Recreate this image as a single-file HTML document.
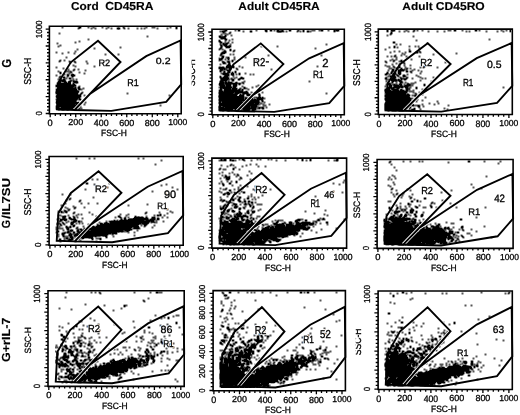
<!DOCTYPE html><html><head><meta charset="utf-8"><style>html,body{margin:0;padding:0;background:#fff}svg{display:block}text{font-family:"Liberation Sans",sans-serif;text-rendering:geometricPrecision}</style></head><body><svg width="520" height="415" viewBox="0 0 520 415">
<defs><clipPath id="c2"><rect x="191.7" y="0" width="30" height="415"/></clipPath><clipPath id="c9"><rect x="355.8" y="0" width="30" height="415"/></clipPath></defs>
<rect width="520" height="415" fill="#fff"/>
<g>
<filter id="db" x="0" y="0" width="1" height="1" color-interpolation-filters="sRGB"><feConvolveMatrix order="3" kernelMatrix="1 2 1 2 4 2 1 2 1" divisor="6" edgeMode="none"/></filter>
<path filter="url(#db)" d="M62 27h1v1h-1zM79 27h2v1h-2zM88 27h1v1h-1zM93 27h1v1h-1zM102 27h1v1h-1zM108 27h1v1h-1zM123 27h1v1h-1zM146 27h1v1h-1zM152 27h1v1h-1zM154 27h1v1h-1zM170 27h1v1h-1zM176 27h1v1h-1zM78 28h1v1h-1zM91 28h1v1h-1zM95 28h1v1h-1zM106 28h1v1h-1zM111 28h1v1h-1zM117 28h3v1h-3zM124 28h1v1h-1zM128 28h1v1h-1zM137 28h1v1h-1zM141 28h1v1h-1zM144 28h1v1h-1zM157 28h1v1h-1zM167 28h1v1h-1zM176 28h1v1h-1zM225 30h2v1h-2zM235 30h1v1h-1zM238 30h2v1h-2zM256 30h1v1h-1zM265 30h2v1h-2zM270 30h2v1h-2zM274 30h1v1h-1zM277 30h1v1h-1zM282 30h1v1h-1zM289 30h2v1h-2zM298 30h1v1h-1zM303 30h1v1h-1zM312 30h1v1h-1zM314 30h1v1h-1zM319 30h1v1h-1zM321 30h2v1h-2zM328 30h1v1h-1zM334 30h1v1h-1zM336 30h3v1h-3zM387 30h1v1h-1zM391 30h4v1h-4zM406 30h1v1h-1zM414 30h1v1h-1zM417 30h1v1h-1zM422 30h1v1h-1zM448 30h1v1h-1zM450 30h1v1h-1zM454 30h2v1h-2zM462 30h1v1h-1zM475 30h2v1h-2zM479 30h1v1h-1zM501 30h1v1h-1zM506 30h1v1h-1zM510 30h1v1h-1zM220 31h1v1h-1zM222 31h3v1h-3zM243 31h1v1h-1zM250 31h2v1h-2zM266 31h1v1h-1zM277 31h5v1h-5zM283 31h1v1h-1zM286 31h1v1h-1zM297 31h1v1h-1zM300 31h1v1h-1zM303 31h1v1h-1zM307 31h2v1h-2zM310 31h1v1h-1zM334 31h1v1h-1zM387 31h1v1h-1zM399 31h1v1h-1zM404 31h1v1h-1zM408 31h1v1h-1zM413 31h1v1h-1zM428 31h1v1h-1zM437 31h1v1h-1zM444 31h1v1h-1zM466 31h1v1h-1zM469 31h1v1h-1zM486 31h1v1h-1zM497 31h1v1h-1zM503 31h1v1h-1zM510 31h1v1h-1zM230 32h1v1h-1zM391 32h1v1h-1zM59 33h1v1h-1zM223 33h1v1h-1zM225 33h1v1h-1zM229 33h1v1h-1zM391 33h1v1h-1zM221 34h1v1h-1zM227 34h1v1h-1zM390 34h1v1h-1zM225 35h1v1h-1zM231 35h1v1h-1zM387 35h1v1h-1zM147 36h1v1h-1zM219 36h2v1h-2zM222 36h1v1h-1zM225 36h1v1h-1zM413 36h1v1h-1zM220 37h1v1h-1zM223 37h2v1h-2zM221 38h2v1h-2zM224 38h1v1h-1zM88 39h1v1h-1zM225 39h2v1h-2zM232 39h1v1h-1zM489 39h1v1h-1zM219 40h1v1h-1zM229 40h1v1h-1zM416 40h1v1h-1zM79 41h1v1h-1zM219 41h1v1h-1zM225 41h1v1h-1zM75 42h1v1h-1zM220 42h2v1h-2zM228 42h1v1h-1zM232 42h1v1h-1zM393 42h2v1h-2zM57 43h1v1h-1zM223 43h1v1h-1zM225 43h1v1h-1zM227 43h1v1h-1zM427 43h1v1h-1zM220 44h1v1h-1zM223 44h1v1h-1zM226 44h1v1h-1zM230 44h1v1h-1zM326 44h1v1h-1zM396 44h1v1h-1zM400 44h1v1h-1zM60 45h1v1h-1zM221 45h1v1h-1zM224 45h2v1h-2zM58 46h1v1h-1zM221 46h1v1h-1zM226 46h1v1h-1zM228 46h3v1h-3zM261 46h1v1h-1zM277 46h1v1h-1zM394 46h1v1h-1zM409 46h1v1h-1zM415 46h1v1h-1zM418 46h1v1h-1zM120 47h1v1h-1zM221 47h1v1h-1zM226 47h1v1h-1zM228 47h1v1h-1zM389 47h1v1h-1zM394 47h1v1h-1zM397 47h1v1h-1zM94 48h1v1h-1zM220 48h1v1h-1zM315 48h1v1h-1zM419 48h1v1h-1zM77 49h1v1h-1zM219 49h1v1h-1zM222 49h1v1h-1zM230 49h1v1h-1zM385 49h1v1h-1zM409 49h1v1h-1zM224 50h1v1h-1zM230 50h1v1h-1zM234 50h1v1h-1zM75 51h1v1h-1zM225 51h1v1h-1zM233 51h1v1h-1zM394 51h1v1h-1zM399 51h1v1h-1zM409 51h2v1h-2zM419 51h1v1h-1zM56 52h1v1h-1zM68 52h1v1h-1zM222 52h4v1h-4zM390 52h1v1h-1zM405 52h1v1h-1zM416 52h2v1h-2zM420 52h1v1h-1zM62 53h1v1h-1zM74 53h1v1h-1zM221 53h1v1h-1zM223 53h1v1h-1zM402 53h1v1h-1zM456 53h1v1h-1zM105 54h1v1h-1zM118 54h1v1h-1zM221 54h1v1h-1zM230 54h1v1h-1zM233 54h1v1h-1zM404 54h1v1h-1zM433 54h1v1h-1zM220 55h1v1h-1zM268 55h1v1h-1zM321 55h1v1h-1zM395 55h1v1h-1zM401 55h1v1h-1zM222 56h2v1h-2zM387 56h1v1h-1zM391 56h1v1h-1zM394 56h1v1h-1zM406 56h1v1h-1zM419 56h1v1h-1zM66 57h1v1h-1zM222 57h1v1h-1zM226 57h1v1h-1zM228 57h1v1h-1zM234 57h1v1h-1zM245 57h1v1h-1zM396 57h1v1h-1zM219 58h1v1h-1zM222 58h1v1h-1zM228 58h1v1h-1zM220 59h2v1h-2zM225 59h1v1h-1zM228 59h1v1h-1zM234 59h1v1h-1zM256 59h1v1h-1zM392 59h1v1h-1zM396 59h1v1h-1zM411 59h1v1h-1zM60 60h1v1h-1zM64 60h1v1h-1zM219 60h1v1h-1zM232 60h1v1h-1zM390 60h1v1h-1zM394 60h1v1h-1zM401 60h1v1h-1zM59 61h1v1h-1zM69 61h1v1h-1zM74 61h1v1h-1zM86 61h1v1h-1zM222 61h1v1h-1zM227 61h1v1h-1zM229 61h1v1h-1zM232 61h1v1h-1zM385 61h1v1h-1zM393 61h1v1h-1zM399 61h1v1h-1zM401 61h1v1h-1zM70 62h1v1h-1zM75 62h1v1h-1zM223 62h2v1h-2zM228 62h1v1h-1zM386 62h1v1h-1zM403 62h1v1h-1zM421 62h1v1h-1zM445 62h1v1h-1zM87 63h1v1h-1zM223 63h1v1h-1zM225 63h1v1h-1zM229 63h1v1h-1zM396 63h1v1h-1zM404 63h1v1h-1zM220 64h1v1h-1zM229 64h1v1h-1zM392 64h1v1h-1zM399 64h1v1h-1zM73 65h1v1h-1zM227 65h3v1h-3zM281 65h1v1h-1zM385 65h1v1h-1zM404 65h1v1h-1zM410 65h1v1h-1zM75 66h1v1h-1zM94 66h1v1h-1zM227 66h4v1h-4zM232 66h2v1h-2zM239 66h1v1h-1zM317 66h1v1h-1zM387 66h1v1h-1zM389 66h1v1h-1zM393 66h1v1h-1zM399 66h1v1h-1zM424 66h1v1h-1zM56 67h1v1h-1zM219 67h2v1h-2zM222 67h2v1h-2zM226 67h2v1h-2zM233 67h1v1h-1zM242 67h1v1h-1zM394 67h1v1h-1zM399 67h1v1h-1zM405 67h1v1h-1zM420 67h1v1h-1zM423 67h1v1h-1zM437 67h1v1h-1zM63 68h1v1h-1zM219 68h1v1h-1zM221 68h2v1h-2zM224 68h1v1h-1zM229 68h2v1h-2zM236 68h1v1h-1zM389 68h1v1h-1zM391 68h1v1h-1zM396 68h2v1h-2zM401 68h1v1h-1zM407 68h1v1h-1zM410 68h1v1h-1zM68 69h1v1h-1zM74 69h1v1h-1zM78 69h1v1h-1zM221 69h1v1h-1zM224 69h1v1h-1zM226 69h1v1h-1zM229 69h2v1h-2zM237 69h1v1h-1zM271 69h1v1h-1zM393 69h1v1h-1zM401 69h1v1h-1zM404 69h1v1h-1zM406 69h1v1h-1zM414 69h1v1h-1zM73 70h1v1h-1zM85 70h1v1h-1zM220 70h1v1h-1zM222 70h1v1h-1zM227 70h1v1h-1zM388 70h1v1h-1zM392 70h2v1h-2zM398 70h3v1h-3zM402 70h2v1h-2zM412 70h1v1h-1zM418 70h1v1h-1zM58 71h1v1h-1zM66 71h1v1h-1zM68 71h1v1h-1zM70 71h1v1h-1zM220 71h1v1h-1zM224 71h1v1h-1zM228 71h2v1h-2zM235 71h1v1h-1zM392 71h1v1h-1zM400 71h1v1h-1zM406 71h2v1h-2zM410 71h1v1h-1zM421 71h1v1h-1zM60 72h1v1h-1zM71 72h1v1h-1zM79 72h1v1h-1zM224 72h1v1h-1zM229 72h1v1h-1zM232 72h1v1h-1zM235 72h1v1h-1zM274 72h1v1h-1zM387 72h1v1h-1zM391 72h1v1h-1zM395 72h1v1h-1zM398 72h2v1h-2zM411 72h1v1h-1zM60 73h1v1h-1zM69 73h1v1h-1zM84 73h1v1h-1zM221 73h1v1h-1zM223 73h1v1h-1zM226 73h1v1h-1zM232 73h1v1h-1zM239 73h1v1h-1zM245 73h1v1h-1zM387 73h1v1h-1zM391 73h1v1h-1zM394 73h1v1h-1zM399 73h2v1h-2zM420 73h1v1h-1zM64 74h1v1h-1zM67 74h1v1h-1zM72 74h1v1h-1zM223 74h1v1h-1zM225 74h2v1h-2zM228 74h1v1h-1zM231 74h3v1h-3zM236 74h1v1h-1zM239 74h1v1h-1zM250 74h1v1h-1zM253 74h1v1h-1zM385 74h2v1h-2zM389 74h1v1h-1zM393 74h2v1h-2zM396 74h1v1h-1zM399 74h1v1h-1zM407 74h1v1h-1zM56 75h1v1h-1zM68 75h1v1h-1zM71 75h4v1h-4zM225 75h2v1h-2zM228 75h1v1h-1zM397 75h1v1h-1zM403 75h2v1h-2zM416 75h1v1h-1zM60 76h1v1h-1zM67 76h1v1h-1zM220 76h1v1h-1zM225 76h2v1h-2zM233 76h1v1h-1zM388 76h1v1h-1zM390 76h2v1h-2zM393 76h2v1h-2zM398 76h1v1h-1zM403 76h1v1h-1zM405 76h1v1h-1zM418 76h1v1h-1zM59 77h1v1h-1zM63 77h2v1h-2zM72 77h1v1h-1zM220 77h1v1h-1zM223 77h2v1h-2zM226 77h1v1h-1zM228 77h1v1h-1zM236 77h1v1h-1zM241 77h1v1h-1zM386 77h1v1h-1zM393 77h3v1h-3zM400 77h1v1h-1zM407 77h1v1h-1zM420 77h1v1h-1zM433 77h1v1h-1zM66 78h1v1h-1zM69 78h2v1h-2zM221 78h1v1h-1zM223 78h2v1h-2zM227 78h1v1h-1zM231 78h1v1h-1zM234 78h1v1h-1zM240 78h1v1h-1zM242 78h2v1h-2zM385 78h1v1h-1zM393 78h1v1h-1zM401 78h1v1h-1zM403 78h1v1h-1zM406 78h1v1h-1zM412 78h1v1h-1zM422 78h1v1h-1zM425 78h1v1h-1zM58 79h1v1h-1zM60 79h1v1h-1zM64 79h1v1h-1zM73 79h1v1h-1zM76 79h1v1h-1zM221 79h1v1h-1zM223 79h2v1h-2zM226 79h2v1h-2zM229 79h1v1h-1zM232 79h1v1h-1zM238 79h2v1h-2zM386 79h1v1h-1zM388 79h1v1h-1zM391 79h3v1h-3zM395 79h1v1h-1zM398 79h1v1h-1zM401 79h1v1h-1zM404 79h2v1h-2zM61 80h4v1h-4zM71 80h1v1h-1zM221 80h1v1h-1zM225 80h1v1h-1zM232 80h2v1h-2zM392 80h5v1h-5zM398 80h2v1h-2zM420 80h1v1h-1zM60 81h1v1h-1zM63 81h1v1h-1zM65 81h1v1h-1zM69 81h2v1h-2zM73 81h2v1h-2zM76 81h1v1h-1zM220 81h1v1h-1zM222 81h1v1h-1zM225 81h1v1h-1zM228 81h1v1h-1zM244 81h1v1h-1zM309 81h1v1h-1zM386 81h1v1h-1zM392 81h1v1h-1zM400 81h2v1h-2zM431 81h1v1h-1zM58 82h2v1h-2zM65 82h1v1h-1zM68 82h2v1h-2zM75 82h3v1h-3zM220 82h1v1h-1zM223 82h1v1h-1zM226 82h1v1h-1zM229 82h1v1h-1zM231 82h1v1h-1zM236 82h1v1h-1zM242 82h1v1h-1zM392 82h1v1h-1zM396 82h1v1h-1zM400 82h1v1h-1zM402 82h1v1h-1zM405 82h1v1h-1zM415 82h1v1h-1zM57 83h1v1h-1zM59 83h1v1h-1zM61 83h1v1h-1zM63 83h1v1h-1zM65 83h2v1h-2zM69 83h1v1h-1zM73 83h1v1h-1zM220 83h1v1h-1zM222 83h2v1h-2zM225 83h2v1h-2zM228 83h4v1h-4zM233 83h1v1h-1zM235 83h2v1h-2zM238 83h1v1h-1zM240 83h1v1h-1zM243 83h1v1h-1zM388 83h1v1h-1zM390 83h1v1h-1zM407 83h1v1h-1zM411 83h1v1h-1zM413 83h1v1h-1zM58 84h3v1h-3zM62 84h1v1h-1zM64 84h1v1h-1zM66 84h5v1h-5zM73 84h1v1h-1zM219 84h4v1h-4zM228 84h2v1h-2zM233 84h3v1h-3zM239 84h1v1h-1zM386 84h1v1h-1zM388 84h2v1h-2zM392 84h1v1h-1zM394 84h1v1h-1zM396 84h1v1h-1zM399 84h3v1h-3zM404 84h1v1h-1zM408 84h2v1h-2zM424 84h1v1h-1zM56 85h1v1h-1zM58 85h2v1h-2zM62 85h2v1h-2zM65 85h5v1h-5zM71 85h1v1h-1zM73 85h3v1h-3zM220 85h1v1h-1zM223 85h2v1h-2zM226 85h5v1h-5zM235 85h2v1h-2zM258 85h1v1h-1zM390 85h1v1h-1zM394 85h1v1h-1zM397 85h1v1h-1zM406 85h2v1h-2zM410 85h1v1h-1zM412 85h1v1h-1zM424 85h1v1h-1zM56 86h1v1h-1zM58 86h6v1h-6zM65 86h3v1h-3zM69 86h4v1h-4zM79 86h1v1h-1zM221 86h1v1h-1zM227 86h1v1h-1zM233 86h3v1h-3zM242 86h1v1h-1zM256 86h1v1h-1zM385 86h1v1h-1zM390 86h2v1h-2zM394 86h5v1h-5zM400 86h3v1h-3zM404 86h3v1h-3zM408 86h1v1h-1zM58 87h4v1h-4zM64 87h3v1h-3zM68 87h2v1h-2zM71 87h2v1h-2zM75 87h1v1h-1zM78 87h1v1h-1zM219 87h1v1h-1zM221 87h5v1h-5zM228 87h4v1h-4zM234 87h1v1h-1zM244 87h1v1h-1zM252 87h1v1h-1zM388 87h2v1h-2zM394 87h1v1h-1zM397 87h1v1h-1zM399 87h1v1h-1zM402 87h1v1h-1zM406 87h1v1h-1zM410 87h1v1h-1zM416 87h1v1h-1zM503 87h1v1h-1zM58 88h1v1h-1zM60 88h4v1h-4zM65 88h4v1h-4zM70 88h3v1h-3zM74 88h2v1h-2zM78 88h2v1h-2zM83 88h1v1h-1zM224 88h4v1h-4zM229 88h1v1h-1zM233 88h2v1h-2zM236 88h1v1h-1zM240 88h1v1h-1zM244 88h1v1h-1zM246 88h1v1h-1zM387 88h1v1h-1zM389 88h1v1h-1zM391 88h3v1h-3zM398 88h1v1h-1zM406 88h1v1h-1zM408 88h1v1h-1zM416 88h1v1h-1zM56 89h2v1h-2zM59 89h1v1h-1zM61 89h9v1h-9zM71 89h3v1h-3zM75 89h1v1h-1zM79 89h1v1h-1zM81 89h1v1h-1zM221 89h1v1h-1zM225 89h5v1h-5zM232 89h3v1h-3zM236 89h1v1h-1zM239 89h1v1h-1zM242 89h1v1h-1zM248 89h1v1h-1zM385 89h2v1h-2zM388 89h1v1h-1zM392 89h1v1h-1zM395 89h3v1h-3zM401 89h1v1h-1zM406 89h1v1h-1zM409 89h1v1h-1zM422 89h1v1h-1zM57 90h4v1h-4zM62 90h10v1h-10zM73 90h1v1h-1zM75 90h2v1h-2zM219 90h3v1h-3zM224 90h8v1h-8zM234 90h2v1h-2zM238 90h2v1h-2zM242 90h1v1h-1zM385 90h2v1h-2zM389 90h1v1h-1zM393 90h5v1h-5zM400 90h2v1h-2zM403 90h1v1h-1zM407 90h1v1h-1zM413 90h1v1h-1zM56 91h6v1h-6zM63 91h13v1h-13zM77 91h2v1h-2zM221 91h1v1h-1zM224 91h3v1h-3zM228 91h6v1h-6zM235 91h5v1h-5zM241 91h1v1h-1zM246 91h1v1h-1zM385 91h1v1h-1zM387 91h1v1h-1zM389 91h3v1h-3zM395 91h4v1h-4zM400 91h4v1h-4zM405 91h2v1h-2zM409 91h1v1h-1zM411 91h1v1h-1zM56 92h19v1h-19zM76 92h2v1h-2zM82 92h1v1h-1zM219 92h4v1h-4zM224 92h9v1h-9zM235 92h5v1h-5zM241 92h1v1h-1zM243 92h3v1h-3zM247 92h1v1h-1zM251 92h1v1h-1zM262 92h1v1h-1zM386 92h3v1h-3zM390 92h4v1h-4zM395 92h3v1h-3zM399 92h2v1h-2zM403 92h4v1h-4zM413 92h1v1h-1zM419 92h1v1h-1zM56 93h1v1h-1zM58 93h1v1h-1zM60 93h1v1h-1zM62 93h10v1h-10zM73 93h4v1h-4zM81 93h1v1h-1zM127 93h1v1h-1zM219 93h2v1h-2zM222 93h1v1h-1zM224 93h1v1h-1zM226 93h1v1h-1zM228 93h2v1h-2zM232 93h1v1h-1zM235 93h3v1h-3zM243 93h1v1h-1zM245 93h1v1h-1zM247 93h1v1h-1zM253 93h1v1h-1zM258 93h1v1h-1zM326 93h1v1h-1zM385 93h1v1h-1zM387 93h1v1h-1zM389 93h2v1h-2zM392 93h2v1h-2zM395 93h10v1h-10zM415 93h1v1h-1zM58 94h18v1h-18zM77 94h1v1h-1zM80 94h1v1h-1zM220 94h1v1h-1zM222 94h2v1h-2zM225 94h2v1h-2zM228 94h2v1h-2zM231 94h1v1h-1zM233 94h1v1h-1zM235 94h2v1h-2zM240 94h1v1h-1zM243 94h1v1h-1zM247 94h1v1h-1zM249 94h1v1h-1zM254 94h1v1h-1zM259 94h1v1h-1zM387 94h1v1h-1zM389 94h7v1h-7zM397 94h4v1h-4zM402 94h3v1h-3zM407 94h2v1h-2zM416 94h1v1h-1zM422 94h1v1h-1zM57 95h18v1h-18zM76 95h2v1h-2zM79 95h1v1h-1zM84 95h1v1h-1zM169 95h1v1h-1zM219 95h6v1h-6zM227 95h9v1h-9zM240 95h1v1h-1zM242 95h1v1h-1zM247 95h1v1h-1zM249 95h1v1h-1zM251 95h1v1h-1zM259 95h1v1h-1zM385 95h5v1h-5zM391 95h1v1h-1zM393 95h1v1h-1zM395 95h5v1h-5zM401 95h6v1h-6zM409 95h1v1h-1zM412 95h1v1h-1zM414 95h1v1h-1zM56 96h22v1h-22zM80 96h1v1h-1zM219 96h2v1h-2zM222 96h1v1h-1zM224 96h11v1h-11zM236 96h1v1h-1zM239 96h3v1h-3zM243 96h1v1h-1zM252 96h1v1h-1zM259 96h1v1h-1zM385 96h3v1h-3zM389 96h5v1h-5zM395 96h9v1h-9zM406 96h3v1h-3zM415 96h2v1h-2zM57 97h1v1h-1zM59 97h18v1h-18zM78 97h2v1h-2zM219 97h1v1h-1zM221 97h4v1h-4zM226 97h1v1h-1zM229 97h4v1h-4zM234 97h9v1h-9zM245 97h1v1h-1zM251 97h1v1h-1zM254 97h1v1h-1zM256 97h1v1h-1zM259 97h1v1h-1zM262 97h1v1h-1zM387 97h22v1h-22zM425 97h1v1h-1zM58 98h17v1h-17zM76 98h1v1h-1zM220 98h18v1h-18zM239 98h3v1h-3zM243 98h1v1h-1zM246 98h2v1h-2zM249 98h3v1h-3zM257 98h4v1h-4zM262 98h1v1h-1zM264 98h1v1h-1zM385 98h1v1h-1zM387 98h15v1h-15zM403 98h4v1h-4zM408 98h3v1h-3zM412 98h1v1h-1zM56 99h1v1h-1zM58 99h1v1h-1zM60 99h16v1h-16zM77 99h1v1h-1zM79 99h2v1h-2zM219 99h1v1h-1zM221 99h12v1h-12zM234 99h2v1h-2zM237 99h6v1h-6zM245 99h1v1h-1zM247 99h2v1h-2zM250 99h3v1h-3zM254 99h1v1h-1zM258 99h2v1h-2zM261 99h1v1h-1zM385 99h4v1h-4zM390 99h13v1h-13zM404 99h4v1h-4zM409 99h2v1h-2zM415 99h1v1h-1zM417 99h1v1h-1zM57 100h2v1h-2zM60 100h14v1h-14zM75 100h1v1h-1zM219 100h5v1h-5zM225 100h12v1h-12zM238 100h4v1h-4zM243 100h1v1h-1zM245 100h3v1h-3zM249 100h1v1h-1zM254 100h4v1h-4zM262 100h1v1h-1zM386 100h19v1h-19zM406 100h1v1h-1zM408 100h2v1h-2zM422 100h1v1h-1zM57 101h19v1h-19zM223 101h16v1h-16zM240 101h2v1h-2zM244 101h9v1h-9zM254 101h2v1h-2zM257 101h2v1h-2zM262 101h1v1h-1zM387 101h17v1h-17zM405 101h3v1h-3zM411 101h1v1h-1zM416 101h1v1h-1zM437 101h1v1h-1zM56 102h4v1h-4zM61 102h13v1h-13zM75 102h1v1h-1zM78 102h1v1h-1zM85 102h1v1h-1zM219 102h1v1h-1zM222 102h13v1h-13zM236 102h4v1h-4zM241 102h1v1h-1zM244 102h2v1h-2zM247 102h1v1h-1zM249 102h3v1h-3zM253 102h2v1h-2zM256 102h2v1h-2zM259 102h1v1h-1zM264 102h1v1h-1zM386 102h1v1h-1zM388 102h1v1h-1zM390 102h13v1h-13zM404 102h6v1h-6zM57 103h15v1h-15zM73 103h2v1h-2zM76 103h3v1h-3zM219 103h2v1h-2zM222 103h4v1h-4zM227 103h12v1h-12zM240 103h4v1h-4zM246 103h3v1h-3zM250 103h2v1h-2zM256 103h2v1h-2zM261 103h1v1h-1zM385 103h12v1h-12zM398 103h8v1h-8zM407 103h1v1h-1zM409 103h3v1h-3zM429 103h1v1h-1zM438 103h1v1h-1zM58 104h17v1h-17zM77 104h1v1h-1zM84 104h1v1h-1zM220 104h4v1h-4zM226 104h12v1h-12zM239 104h1v1h-1zM241 104h6v1h-6zM249 104h5v1h-5zM255 104h1v1h-1zM257 104h1v1h-1zM259 104h1v1h-1zM263 104h1v1h-1zM269 104h1v1h-1zM385 104h1v1h-1zM387 104h6v1h-6zM394 104h10v1h-10zM405 104h3v1h-3zM409 104h1v1h-1zM412 104h1v1h-1zM422 104h1v1h-1zM434 104h1v1h-1zM58 105h13v1h-13zM72 105h2v1h-2zM76 105h2v1h-2zM160 105h1v1h-1zM220 105h1v1h-1zM223 105h3v1h-3zM227 105h2v1h-2zM230 105h3v1h-3zM234 105h2v1h-2zM238 105h3v1h-3zM242 105h2v1h-2zM245 105h3v1h-3zM250 105h1v1h-1zM252 105h4v1h-4zM265 105h1v1h-1zM385 105h22v1h-22zM408 105h1v1h-1zM410 105h1v1h-1zM412 105h2v1h-2zM415 105h1v1h-1zM417 105h1v1h-1zM419 105h1v1h-1zM448 105h1v1h-1zM56 106h2v1h-2zM60 106h1v1h-1zM62 106h11v1h-11zM74 106h3v1h-3zM80 106h1v1h-1zM219 106h2v1h-2zM223 106h2v1h-2zM226 106h4v1h-4zM231 106h1v1h-1zM233 106h1v1h-1zM235 106h3v1h-3zM240 106h1v1h-1zM243 106h1v1h-1zM245 106h4v1h-4zM251 106h3v1h-3zM255 106h1v1h-1zM257 106h1v1h-1zM263 106h1v1h-1zM385 106h24v1h-24zM418 106h1v1h-1zM423 106h1v1h-1zM57 107h2v1h-2zM62 107h12v1h-12zM77 107h1v1h-1zM219 107h1v1h-1zM222 107h1v1h-1zM226 107h7v1h-7zM234 107h3v1h-3zM238 107h6v1h-6zM245 107h2v1h-2zM248 107h2v1h-2zM254 107h2v1h-2zM259 107h1v1h-1zM261 107h1v1h-1zM266 107h1v1h-1zM385 107h4v1h-4zM390 107h13v1h-13zM404 107h3v1h-3zM409 107h2v1h-2zM419 107h1v1h-1zM56 108h1v1h-1zM58 108h1v1h-1zM60 108h1v1h-1zM62 108h4v1h-4zM67 108h5v1h-5zM75 108h1v1h-1zM79 108h1v1h-1zM81 108h1v1h-1zM220 108h4v1h-4zM225 108h1v1h-1zM227 108h7v1h-7zM235 108h1v1h-1zM238 108h1v1h-1zM242 108h5v1h-5zM248 108h2v1h-2zM251 108h3v1h-3zM257 108h1v1h-1zM259 108h1v1h-1zM262 108h2v1h-2zM385 108h3v1h-3zM390 108h4v1h-4zM395 108h4v1h-4zM400 108h5v1h-5zM406 108h1v1h-1zM414 108h1v1h-1zM444 108h1v1h-1zM58 109h2v1h-2zM61 109h4v1h-4zM66 109h3v1h-3zM74 109h1v1h-1zM76 109h1v1h-1zM78 109h1v1h-1zM219 109h1v1h-1zM221 109h1v1h-1zM223 109h4v1h-4zM228 109h2v1h-2zM231 109h1v1h-1zM235 109h2v1h-2zM239 109h2v1h-2zM244 109h2v1h-2zM247 109h3v1h-3zM254 109h2v1h-2zM385 109h1v1h-1zM387 109h5v1h-5zM393 109h3v1h-3zM397 109h10v1h-10zM409 109h1v1h-1zM412 109h1v1h-1zM414 109h1v1h-1zM420 109h1v1h-1zM447 109h1v1h-1zM220 110h1v1h-1zM222 110h2v1h-2zM227 110h3v1h-3zM231 110h1v1h-1zM236 110h1v1h-1zM238 110h1v1h-1zM240 110h1v1h-1zM242 110h1v1h-1zM244 110h5v1h-5zM252 110h2v1h-2zM385 110h1v1h-1zM387 110h3v1h-3zM391 110h6v1h-6zM398 110h6v1h-6zM405 110h1v1h-1zM411 110h2v1h-2zM76 158h1v1h-1zM89 158h1v1h-1zM94 158h1v1h-1zM138 158h1v1h-1zM143 158h1v1h-1zM221 159h1v1h-1zM224 159h2v1h-2zM230 159h1v1h-1zM239 159h1v1h-1zM242 159h2v1h-2zM257 159h1v1h-1zM260 159h1v1h-1zM268 159h1v1h-1zM271 159h1v1h-1zM297 159h1v1h-1zM302 159h1v1h-1zM310 159h1v1h-1zM337 159h1v1h-1zM161 160h1v1h-1zM219 160h1v1h-1zM221 160h1v1h-1zM223 160h1v1h-1zM225 160h1v1h-1zM230 160h1v1h-1zM232 160h2v1h-2zM235 160h1v1h-1zM244 160h1v1h-1zM251 160h1v1h-1zM276 160h1v1h-1zM285 160h1v1h-1zM302 160h1v1h-1zM306 160h1v1h-1zM310 160h1v1h-1zM328 160h1v1h-1zM334 160h1v1h-1zM336 160h2v1h-2zM390 161h1v1h-1zM403 161h1v1h-1zM410 161h1v1h-1zM419 161h1v1h-1zM422 161h1v1h-1zM468 161h2v1h-2zM484 161h1v1h-1zM500 161h1v1h-1zM389 162h1v1h-1zM448 162h1v1h-1zM498 163h1v1h-1zM155 164h1v1h-1zM231 164h1v1h-1zM250 164h1v1h-1zM256 164h1v1h-1zM391 164h1v1h-1zM221 165h1v1h-1zM230 165h1v1h-1zM233 165h1v1h-1zM246 165h1v1h-1zM227 166h1v1h-1zM242 166h1v1h-1zM258 166h1v1h-1zM265 166h1v1h-1zM235 167h1v1h-1zM394 167h1v1h-1zM220 168h1v1h-1zM233 168h1v1h-1zM219 169h1v1h-1zM223 169h1v1h-1zM225 169h1v1h-1zM233 169h1v1h-1zM239 169h1v1h-1zM396 170h1v1h-1zM249 171h1v1h-1zM222 172h1v1h-1zM232 172h1v1h-1zM219 173h1v1h-1zM229 173h1v1h-1zM251 173h1v1h-1zM234 174h1v1h-1zM237 174h1v1h-1zM222 175h1v1h-1zM225 175h1v1h-1zM238 175h1v1h-1zM247 175h1v1h-1zM392 175h1v1h-1zM226 176h1v1h-1zM229 176h1v1h-1zM236 176h1v1h-1zM394 176h1v1h-1zM486 176h1v1h-1zM224 177h1v1h-1zM226 177h1v1h-1zM228 177h1v1h-1zM240 177h1v1h-1zM389 177h1v1h-1zM220 178h1v1h-1zM227 178h1v1h-1zM229 178h1v1h-1zM241 178h1v1h-1zM395 178h1v1h-1zM92 179h1v1h-1zM97 179h1v1h-1zM226 179h1v1h-1zM228 179h1v1h-1zM239 179h1v1h-1zM250 179h1v1h-1zM388 179h1v1h-1zM391 179h1v1h-1zM344 180h1v1h-1zM221 181h1v1h-1zM227 181h1v1h-1zM231 181h1v1h-1zM236 181h1v1h-1zM236 182h1v1h-1zM343 182h1v1h-1zM393 182h1v1h-1zM86 183h2v1h-2zM109 183h1v1h-1zM219 183h1v1h-1zM222 183h1v1h-1zM229 183h2v1h-2zM333 183h1v1h-1zM94 184h1v1h-1zM166 184h1v1h-1zM223 184h1v1h-1zM339 184h1v1h-1zM394 184h1v1h-1zM471 184h1v1h-1zM161 185h1v1h-1zM223 185h1v1h-1zM232 185h1v1h-1zM240 185h1v1h-1zM388 185h1v1h-1zM247 186h1v1h-1zM255 186h1v1h-1zM390 186h1v1h-1zM107 187h1v1h-1zM172 187h1v1h-1zM238 187h1v1h-1zM430 187h1v1h-1zM473 187h1v1h-1zM220 188h1v1h-1zM226 188h1v1h-1zM242 188h1v1h-1zM392 188h1v1h-1zM481 188h1v1h-1zM85 189h1v1h-1zM177 189h1v1h-1zM223 189h1v1h-1zM225 189h1v1h-1zM234 189h1v1h-1zM238 189h1v1h-1zM253 189h1v1h-1zM270 189h1v1h-1zM391 189h1v1h-1zM407 189h1v1h-1zM229 190h2v1h-2zM255 190h1v1h-1zM396 190h1v1h-1zM410 190h1v1h-1zM451 190h1v1h-1zM152 191h1v1h-1zM219 191h1v1h-1zM241 191h1v1h-1zM333 191h1v1h-1zM221 192h1v1h-1zM227 192h1v1h-1zM231 192h1v1h-1zM234 192h1v1h-1zM243 192h2v1h-2zM342 192h1v1h-1zM391 192h1v1h-1zM441 192h1v1h-1zM165 193h1v1h-1zM225 193h1v1h-1zM227 193h3v1h-3zM235 193h1v1h-1zM239 193h1v1h-1zM397 193h1v1h-1zM403 193h1v1h-1zM62 194h1v1h-1zM70 194h1v1h-1zM223 194h2v1h-2zM228 194h1v1h-1zM251 194h1v1h-1zM393 194h1v1h-1zM396 194h1v1h-1zM412 194h1v1h-1zM262 195h1v1h-1zM402 195h1v1h-1zM227 196h1v1h-1zM237 196h1v1h-1zM248 196h1v1h-1zM251 196h1v1h-1zM315 196h1v1h-1zM394 196h1v1h-1zM409 196h1v1h-1zM93 197h1v1h-1zM220 197h1v1h-1zM239 197h2v1h-2zM254 197h1v1h-1zM258 197h1v1h-1zM401 197h1v1h-1zM411 197h1v1h-1zM70 198h1v1h-1zM235 198h1v1h-1zM247 198h2v1h-2zM410 198h1v1h-1zM424 198h2v1h-2zM69 199h1v1h-1zM221 199h1v1h-1zM232 199h2v1h-2zM238 199h2v1h-2zM244 199h1v1h-1zM252 199h1v1h-1zM255 199h1v1h-1zM414 199h1v1h-1zM66 200h1v1h-1zM80 200h1v1h-1zM220 200h1v1h-1zM223 200h2v1h-2zM233 200h1v1h-1zM238 200h1v1h-1zM417 200h1v1h-1zM442 200h1v1h-1zM79 201h1v1h-1zM222 201h1v1h-1zM226 201h1v1h-1zM229 201h1v1h-1zM239 201h2v1h-2zM244 201h2v1h-2zM248 201h2v1h-2zM388 201h1v1h-1zM390 201h1v1h-1zM411 201h2v1h-2zM417 201h1v1h-1zM420 201h1v1h-1zM227 202h1v1h-1zM229 202h1v1h-1zM231 202h1v1h-1zM242 202h1v1h-1zM251 202h2v1h-2zM255 202h1v1h-1zM432 202h1v1h-1zM65 203h1v1h-1zM81 203h1v1h-1zM88 203h1v1h-1zM97 203h1v1h-1zM233 203h1v1h-1zM245 203h1v1h-1zM248 203h1v1h-1zM400 203h1v1h-1zM408 203h1v1h-1zM431 203h1v1h-1zM434 203h1v1h-1zM450 203h1v1h-1zM147 204h1v1h-1zM225 204h1v1h-1zM234 204h3v1h-3zM240 204h1v1h-1zM244 204h1v1h-1zM246 204h1v1h-1zM249 204h1v1h-1zM252 204h1v1h-1zM257 204h1v1h-1zM259 204h1v1h-1zM261 204h1v1h-1zM408 204h1v1h-1zM410 204h1v1h-1zM61 205h1v1h-1zM128 205h1v1h-1zM224 205h1v1h-1zM227 205h1v1h-1zM232 205h1v1h-1zM250 205h1v1h-1zM396 205h1v1h-1zM419 205h1v1h-1zM430 205h1v1h-1zM73 206h1v1h-1zM220 206h1v1h-1zM223 206h1v1h-1zM226 206h1v1h-1zM235 206h1v1h-1zM237 206h1v1h-1zM245 206h1v1h-1zM250 206h1v1h-1zM253 206h1v1h-1zM400 206h1v1h-1zM405 206h1v1h-1zM409 206h1v1h-1zM415 206h1v1h-1zM431 206h1v1h-1zM65 207h1v1h-1zM75 207h1v1h-1zM84 207h1v1h-1zM223 207h1v1h-1zM234 207h3v1h-3zM243 207h1v1h-1zM253 207h1v1h-1zM389 207h1v1h-1zM397 207h1v1h-1zM416 207h2v1h-2zM423 207h1v1h-1zM425 207h1v1h-1zM431 207h1v1h-1zM436 207h1v1h-1zM456 207h1v1h-1zM485 207h1v1h-1zM67 208h1v1h-1zM74 208h1v1h-1zM220 208h2v1h-2zM223 208h1v1h-1zM231 208h1v1h-1zM239 208h2v1h-2zM244 208h1v1h-1zM252 208h1v1h-1zM389 208h1v1h-1zM397 208h1v1h-1zM400 208h1v1h-1zM406 208h1v1h-1zM411 208h1v1h-1zM69 209h1v1h-1zM167 209h1v1h-1zM221 209h1v1h-1zM229 209h1v1h-1zM239 209h1v1h-1zM260 209h1v1h-1zM390 209h1v1h-1zM396 209h1v1h-1zM402 209h1v1h-1zM404 209h1v1h-1zM412 209h1v1h-1zM446 209h1v1h-1zM64 210h1v1h-1zM68 210h1v1h-1zM224 210h1v1h-1zM227 210h2v1h-2zM232 210h1v1h-1zM248 210h1v1h-1zM251 210h1v1h-1zM258 210h1v1h-1zM325 210h1v1h-1zM392 210h1v1h-1zM401 210h1v1h-1zM405 210h1v1h-1zM410 210h4v1h-4zM477 210h1v1h-1zM58 211h1v1h-1zM61 211h1v1h-1zM65 211h2v1h-2zM170 211h1v1h-1zM227 211h2v1h-2zM232 211h3v1h-3zM239 211h1v1h-1zM247 211h1v1h-1zM253 211h2v1h-2zM305 211h1v1h-1zM395 211h2v1h-2zM398 211h2v1h-2zM403 211h1v1h-1zM416 211h1v1h-1zM61 212h1v1h-1zM63 212h1v1h-1zM66 212h1v1h-1zM74 212h1v1h-1zM89 212h1v1h-1zM146 212h1v1h-1zM159 212h1v1h-1zM172 212h1v1h-1zM221 212h2v1h-2zM224 212h1v1h-1zM239 212h1v1h-1zM247 212h2v1h-2zM252 212h2v1h-2zM394 212h2v1h-2zM397 212h1v1h-1zM406 212h2v1h-2zM410 212h3v1h-3zM416 212h1v1h-1zM423 212h1v1h-1zM73 213h1v1h-1zM145 213h1v1h-1zM167 213h1v1h-1zM222 213h1v1h-1zM226 213h1v1h-1zM237 213h1v1h-1zM240 213h2v1h-2zM245 213h1v1h-1zM248 213h1v1h-1zM314 213h1v1h-1zM391 213h1v1h-1zM395 213h1v1h-1zM78 214h1v1h-1zM81 214h1v1h-1zM92 214h1v1h-1zM120 214h1v1h-1zM128 214h1v1h-1zM160 214h1v1h-1zM224 214h1v1h-1zM228 214h1v1h-1zM234 214h1v1h-1zM236 214h1v1h-1zM238 214h1v1h-1zM240 214h1v1h-1zM251 214h1v1h-1zM324 214h1v1h-1zM386 214h1v1h-1zM397 214h1v1h-1zM401 214h1v1h-1zM405 214h1v1h-1zM408 214h1v1h-1zM414 214h2v1h-2zM422 214h1v1h-1zM58 215h1v1h-1zM60 215h1v1h-1zM68 215h1v1h-1zM76 215h1v1h-1zM126 215h1v1h-1zM154 215h1v1h-1zM157 215h2v1h-2zM160 215h1v1h-1zM164 215h1v1h-1zM230 215h1v1h-1zM237 215h3v1h-3zM243 215h1v1h-1zM245 215h1v1h-1zM250 215h1v1h-1zM327 215h1v1h-1zM393 215h2v1h-2zM400 215h2v1h-2zM405 215h2v1h-2zM410 215h1v1h-1zM421 215h2v1h-2zM62 216h1v1h-1zM64 216h2v1h-2zM73 216h1v1h-1zM96 216h1v1h-1zM118 216h2v1h-2zM135 216h1v1h-1zM146 216h1v1h-1zM222 216h1v1h-1zM226 216h1v1h-1zM231 216h1v1h-1zM234 216h2v1h-2zM238 216h1v1h-1zM240 216h2v1h-2zM243 216h1v1h-1zM245 216h1v1h-1zM247 216h1v1h-1zM257 216h1v1h-1zM259 216h1v1h-1zM391 216h1v1h-1zM398 216h1v1h-1zM400 216h1v1h-1zM404 216h2v1h-2zM415 216h2v1h-2zM421 216h1v1h-1zM63 217h2v1h-2zM69 217h1v1h-1zM74 217h1v1h-1zM77 217h1v1h-1zM115 217h1v1h-1zM120 217h1v1h-1zM125 217h1v1h-1zM128 217h1v1h-1zM135 217h1v1h-1zM137 217h3v1h-3zM141 217h2v1h-2zM152 217h1v1h-1zM154 217h1v1h-1zM162 217h1v1h-1zM167 217h1v1h-1zM222 217h1v1h-1zM224 217h1v1h-1zM227 217h1v1h-1zM229 217h1v1h-1zM236 217h1v1h-1zM242 217h1v1h-1zM247 217h1v1h-1zM251 217h1v1h-1zM265 217h1v1h-1zM390 217h1v1h-1zM392 217h2v1h-2zM395 217h2v1h-2zM400 217h1v1h-1zM403 217h1v1h-1zM476 217h1v1h-1zM59 218h1v1h-1zM63 218h1v1h-1zM69 218h2v1h-2zM74 218h1v1h-1zM82 218h1v1h-1zM121 218h1v1h-1zM124 218h1v1h-1zM134 218h2v1h-2zM138 218h6v1h-6zM145 218h3v1h-3zM152 218h1v1h-1zM154 218h1v1h-1zM157 218h2v1h-2zM219 218h1v1h-1zM226 218h3v1h-3zM232 218h1v1h-1zM234 218h1v1h-1zM237 218h2v1h-2zM241 218h1v1h-1zM250 218h1v1h-1zM253 218h1v1h-1zM256 218h1v1h-1zM268 218h1v1h-1zM320 218h1v1h-1zM323 218h1v1h-1zM386 218h1v1h-1zM389 218h1v1h-1zM391 218h1v1h-1zM393 218h1v1h-1zM396 218h1v1h-1zM398 218h2v1h-2zM402 218h2v1h-2zM406 218h2v1h-2zM409 218h1v1h-1zM413 218h1v1h-1zM57 219h1v1h-1zM61 219h1v1h-1zM63 219h4v1h-4zM71 219h2v1h-2zM74 219h1v1h-1zM125 219h1v1h-1zM129 219h10v1h-10zM140 219h3v1h-3zM144 219h1v1h-1zM146 219h2v1h-2zM150 219h1v1h-1zM152 219h3v1h-3zM158 219h1v1h-1zM222 219h1v1h-1zM232 219h1v1h-1zM234 219h1v1h-1zM236 219h1v1h-1zM242 219h1v1h-1zM244 219h1v1h-1zM247 219h1v1h-1zM253 219h1v1h-1zM298 219h1v1h-1zM300 219h1v1h-1zM302 219h1v1h-1zM318 219h1v1h-1zM322 219h1v1h-1zM324 219h1v1h-1zM344 219h1v1h-1zM384 219h1v1h-1zM388 219h1v1h-1zM390 219h1v1h-1zM392 219h1v1h-1zM394 219h3v1h-3zM400 219h7v1h-7zM408 219h1v1h-1zM410 219h1v1h-1zM412 219h1v1h-1zM415 219h1v1h-1zM423 219h1v1h-1zM460 219h2v1h-2zM60 220h2v1h-2zM65 220h1v1h-1zM74 220h3v1h-3zM114 220h1v1h-1zM117 220h1v1h-1zM120 220h3v1h-3zM124 220h2v1h-2zM127 220h5v1h-5zM133 220h1v1h-1zM135 220h1v1h-1zM138 220h2v1h-2zM141 220h1v1h-1zM143 220h1v1h-1zM147 220h1v1h-1zM149 220h1v1h-1zM151 220h1v1h-1zM156 220h1v1h-1zM220 220h1v1h-1zM224 220h1v1h-1zM229 220h4v1h-4zM234 220h2v1h-2zM238 220h1v1h-1zM242 220h2v1h-2zM246 220h1v1h-1zM248 220h1v1h-1zM251 220h1v1h-1zM275 220h1v1h-1zM278 220h1v1h-1zM280 220h1v1h-1zM282 220h1v1h-1zM296 220h2v1h-2zM299 220h1v1h-1zM305 220h2v1h-2zM317 220h1v1h-1zM319 220h1v1h-1zM384 220h1v1h-1zM391 220h3v1h-3zM396 220h4v1h-4zM403 220h1v1h-1zM406 220h1v1h-1zM414 220h2v1h-2zM419 220h1v1h-1zM59 221h1v1h-1zM68 221h1v1h-1zM74 221h2v1h-2zM78 221h2v1h-2zM81 221h1v1h-1zM106 221h1v1h-1zM109 221h1v1h-1zM111 221h2v1h-2zM114 221h1v1h-1zM116 221h1v1h-1zM119 221h2v1h-2zM122 221h1v1h-1zM124 221h11v1h-11zM136 221h7v1h-7zM145 221h2v1h-2zM149 221h1v1h-1zM152 221h2v1h-2zM163 221h1v1h-1zM220 221h2v1h-2zM225 221h1v1h-1zM227 221h1v1h-1zM231 221h1v1h-1zM233 221h1v1h-1zM236 221h1v1h-1zM240 221h1v1h-1zM246 221h4v1h-4zM251 221h1v1h-1zM255 221h1v1h-1zM272 221h1v1h-1zM277 221h1v1h-1zM295 221h2v1h-2zM313 221h1v1h-1zM315 221h1v1h-1zM384 221h1v1h-1zM386 221h1v1h-1zM388 221h1v1h-1zM393 221h3v1h-3zM398 221h2v1h-2zM401 221h3v1h-3zM409 221h1v1h-1zM411 221h2v1h-2zM62 222h1v1h-1zM66 222h1v1h-1zM71 222h3v1h-3zM99 222h1v1h-1zM110 222h2v1h-2zM114 222h1v1h-1zM116 222h1v1h-1zM118 222h2v1h-2zM121 222h9v1h-9zM131 222h1v1h-1zM133 222h1v1h-1zM136 222h2v1h-2zM139 222h1v1h-1zM142 222h1v1h-1zM144 222h2v1h-2zM147 222h2v1h-2zM151 222h1v1h-1zM154 222h1v1h-1zM156 222h1v1h-1zM221 222h1v1h-1zM223 222h5v1h-5zM233 222h1v1h-1zM236 222h4v1h-4zM241 222h1v1h-1zM246 222h3v1h-3zM251 222h1v1h-1zM277 222h1v1h-1zM284 222h1v1h-1zM289 222h3v1h-3zM298 222h1v1h-1zM302 222h2v1h-2zM305 222h1v1h-1zM307 222h1v1h-1zM309 222h1v1h-1zM316 222h1v1h-1zM326 222h2v1h-2zM386 222h1v1h-1zM388 222h1v1h-1zM390 222h1v1h-1zM393 222h4v1h-4zM398 222h3v1h-3zM404 222h1v1h-1zM406 222h2v1h-2zM409 222h1v1h-1zM413 222h3v1h-3zM420 222h1v1h-1zM423 222h1v1h-1zM446 222h1v1h-1zM57 223h1v1h-1zM59 223h1v1h-1zM63 223h1v1h-1zM71 223h2v1h-2zM76 223h1v1h-1zM79 223h1v1h-1zM82 223h1v1h-1zM101 223h1v1h-1zM104 223h4v1h-4zM112 223h21v1h-21zM134 223h1v1h-1zM136 223h5v1h-5zM142 223h2v1h-2zM145 223h1v1h-1zM147 223h1v1h-1zM220 223h1v1h-1zM222 223h3v1h-3zM226 223h1v1h-1zM228 223h1v1h-1zM230 223h6v1h-6zM237 223h2v1h-2zM241 223h2v1h-2zM244 223h1v1h-1zM246 223h1v1h-1zM248 223h1v1h-1zM251 223h2v1h-2zM254 223h1v1h-1zM257 223h1v1h-1zM273 223h1v1h-1zM275 223h2v1h-2zM282 223h1v1h-1zM285 223h1v1h-1zM293 223h1v1h-1zM296 223h3v1h-3zM300 223h2v1h-2zM304 223h1v1h-1zM306 223h1v1h-1zM308 223h1v1h-1zM310 223h1v1h-1zM312 223h2v1h-2zM320 223h1v1h-1zM384 223h5v1h-5zM391 223h1v1h-1zM393 223h4v1h-4zM398 223h1v1h-1zM400 223h2v1h-2zM403 223h6v1h-6zM411 223h1v1h-1zM413 223h2v1h-2zM417 223h1v1h-1zM419 223h1v1h-1zM421 223h1v1h-1zM424 223h1v1h-1zM435 223h1v1h-1zM451 223h1v1h-1zM453 223h1v1h-1zM57 224h1v1h-1zM60 224h1v1h-1zM64 224h1v1h-1zM71 224h1v1h-1zM88 224h1v1h-1zM97 224h1v1h-1zM100 224h3v1h-3zM106 224h10v1h-10zM117 224h11v1h-11zM129 224h9v1h-9zM144 224h1v1h-1zM146 224h1v1h-1zM222 224h1v1h-1zM224 224h1v1h-1zM226 224h3v1h-3zM230 224h2v1h-2zM233 224h7v1h-7zM241 224h3v1h-3zM245 224h2v1h-2zM248 224h1v1h-1zM250 224h1v1h-1zM253 224h1v1h-1zM257 224h1v1h-1zM262 224h1v1h-1zM265 224h1v1h-1zM267 224h1v1h-1zM274 224h1v1h-1zM276 224h1v1h-1zM279 224h2v1h-2zM282 224h2v1h-2zM287 224h1v1h-1zM289 224h3v1h-3zM296 224h2v1h-2zM299 224h1v1h-1zM303 224h4v1h-4zM309 224h4v1h-4zM315 224h1v1h-1zM327 224h1v1h-1zM386 224h3v1h-3zM391 224h3v1h-3zM395 224h2v1h-2zM398 224h4v1h-4zM403 224h1v1h-1zM406 224h1v1h-1zM408 224h3v1h-3zM412 224h1v1h-1zM425 224h1v1h-1zM427 224h1v1h-1zM430 224h1v1h-1zM438 224h2v1h-2zM61 225h1v1h-1zM73 225h2v1h-2zM98 225h1v1h-1zM101 225h10v1h-10zM112 225h3v1h-3zM116 225h18v1h-18zM135 225h3v1h-3zM141 225h1v1h-1zM145 225h1v1h-1zM154 225h1v1h-1zM223 225h1v1h-1zM225 225h13v1h-13zM239 225h1v1h-1zM243 225h1v1h-1zM245 225h4v1h-4zM250 225h3v1h-3zM255 225h1v1h-1zM257 225h1v1h-1zM263 225h1v1h-1zM271 225h1v1h-1zM277 225h3v1h-3zM281 225h1v1h-1zM283 225h1v1h-1zM286 225h2v1h-2zM289 225h3v1h-3zM293 225h1v1h-1zM296 225h5v1h-5zM302 225h3v1h-3zM307 225h1v1h-1zM384 225h8v1h-8zM393 225h11v1h-11zM405 225h2v1h-2zM408 225h1v1h-1zM410 225h1v1h-1zM414 225h1v1h-1zM416 225h3v1h-3zM436 225h1v1h-1zM59 226h1v1h-1zM66 226h1v1h-1zM70 226h1v1h-1zM73 226h1v1h-1zM83 226h1v1h-1zM93 226h1v1h-1zM96 226h1v1h-1zM98 226h28v1h-28zM127 226h6v1h-6zM135 226h3v1h-3zM144 226h1v1h-1zM224 226h5v1h-5zM230 226h2v1h-2zM233 226h2v1h-2zM236 226h3v1h-3zM240 226h2v1h-2zM243 226h1v1h-1zM245 226h5v1h-5zM251 226h1v1h-1zM258 226h1v1h-1zM268 226h2v1h-2zM273 226h1v1h-1zM275 226h2v1h-2zM278 226h2v1h-2zM281 226h4v1h-4zM287 226h1v1h-1zM289 226h4v1h-4zM294 226h4v1h-4zM299 226h2v1h-2zM302 226h3v1h-3zM313 226h1v1h-1zM384 226h1v1h-1zM387 226h1v1h-1zM390 226h4v1h-4zM395 226h2v1h-2zM398 226h1v1h-1zM400 226h2v1h-2zM403 226h5v1h-5zM409 226h2v1h-2zM412 226h1v1h-1zM415 226h2v1h-2zM420 226h1v1h-1zM423 226h1v1h-1zM426 226h1v1h-1zM431 226h3v1h-3zM437 226h2v1h-2zM440 226h1v1h-1zM462 226h1v1h-1zM484 226h1v1h-1zM56 227h1v1h-1zM66 227h1v1h-1zM68 227h1v1h-1zM70 227h1v1h-1zM77 227h1v1h-1zM92 227h3v1h-3zM96 227h1v1h-1zM99 227h1v1h-1zM101 227h30v1h-30zM134 227h1v1h-1zM136 227h3v1h-3zM152 227h1v1h-1zM222 227h2v1h-2zM226 227h5v1h-5zM232 227h2v1h-2zM235 227h6v1h-6zM242 227h1v1h-1zM245 227h3v1h-3zM250 227h1v1h-1zM262 227h1v1h-1zM266 227h2v1h-2zM271 227h2v1h-2zM276 227h6v1h-6zM283 227h2v1h-2zM286 227h3v1h-3zM290 227h4v1h-4zM295 227h1v1h-1zM297 227h1v1h-1zM299 227h6v1h-6zM306 227h1v1h-1zM308 227h2v1h-2zM384 227h1v1h-1zM386 227h2v1h-2zM389 227h3v1h-3zM393 227h1v1h-1zM395 227h2v1h-2zM398 227h6v1h-6zM405 227h3v1h-3zM409 227h1v1h-1zM411 227h1v1h-1zM415 227h5v1h-5zM422 227h2v1h-2zM426 227h1v1h-1zM434 227h4v1h-4zM445 227h1v1h-1zM448 227h1v1h-1zM453 227h1v1h-1zM461 227h2v1h-2zM58 228h1v1h-1zM60 228h1v1h-1zM62 228h1v1h-1zM67 228h1v1h-1zM76 228h1v1h-1zM84 228h1v1h-1zM88 228h2v1h-2zM91 228h29v1h-29zM121 228h3v1h-3zM125 228h1v1h-1zM127 228h1v1h-1zM133 228h1v1h-1zM135 228h1v1h-1zM137 228h1v1h-1zM139 228h1v1h-1zM222 228h3v1h-3zM226 228h3v1h-3zM230 228h3v1h-3zM234 228h1v1h-1zM236 228h4v1h-4zM243 228h1v1h-1zM245 228h2v1h-2zM248 228h2v1h-2zM257 228h1v1h-1zM264 228h5v1h-5zM270 228h3v1h-3zM274 228h1v1h-1zM277 228h2v1h-2zM280 228h15v1h-15zM296 228h1v1h-1zM298 228h1v1h-1zM300 228h2v1h-2zM303 228h2v1h-2zM308 228h1v1h-1zM336 228h1v1h-1zM385 228h5v1h-5zM392 228h9v1h-9zM402 228h2v1h-2zM405 228h1v1h-1zM407 228h7v1h-7zM415 228h1v1h-1zM417 228h1v1h-1zM420 228h1v1h-1zM424 228h1v1h-1zM427 228h2v1h-2zM430 228h1v1h-1zM433 228h1v1h-1zM435 228h2v1h-2zM438 228h2v1h-2zM441 228h1v1h-1zM444 228h2v1h-2zM447 228h2v1h-2zM56 229h1v1h-1zM67 229h2v1h-2zM78 229h1v1h-1zM80 229h2v1h-2zM84 229h2v1h-2zM87 229h1v1h-1zM89 229h1v1h-1zM91 229h1v1h-1zM93 229h1v1h-1zM95 229h26v1h-26zM124 229h3v1h-3zM128 229h4v1h-4zM222 229h1v1h-1zM225 229h2v1h-2zM229 229h7v1h-7zM237 229h4v1h-4zM246 229h2v1h-2zM249 229h1v1h-1zM251 229h1v1h-1zM253 229h2v1h-2zM262 229h2v1h-2zM265 229h1v1h-1zM268 229h1v1h-1zM271 229h16v1h-16zM288 229h5v1h-5zM294 229h5v1h-5zM303 229h1v1h-1zM305 229h3v1h-3zM321 229h1v1h-1zM386 229h3v1h-3zM390 229h6v1h-6zM398 229h9v1h-9zM408 229h1v1h-1zM413 229h2v1h-2zM416 229h3v1h-3zM420 229h3v1h-3zM426 229h1v1h-1zM428 229h2v1h-2zM432 229h2v1h-2zM435 229h1v1h-1zM437 229h2v1h-2zM440 229h1v1h-1zM442 229h1v1h-1zM449 229h1v1h-1zM451 229h1v1h-1zM459 229h1v1h-1zM462 229h1v1h-1zM471 229h1v1h-1zM63 230h1v1h-1zM70 230h3v1h-3zM77 230h1v1h-1zM82 230h1v1h-1zM84 230h1v1h-1zM87 230h2v1h-2zM91 230h32v1h-32zM127 230h2v1h-2zM137 230h1v1h-1zM219 230h1v1h-1zM221 230h2v1h-2zM224 230h1v1h-1zM226 230h1v1h-1zM228 230h7v1h-7zM236 230h1v1h-1zM238 230h3v1h-3zM242 230h4v1h-4zM250 230h1v1h-1zM255 230h2v1h-2zM258 230h1v1h-1zM262 230h2v1h-2zM265 230h6v1h-6zM272 230h2v1h-2zM276 230h9v1h-9zM287 230h6v1h-6zM294 230h1v1h-1zM298 230h2v1h-2zM311 230h1v1h-1zM384 230h2v1h-2zM387 230h10v1h-10zM398 230h3v1h-3zM403 230h11v1h-11zM415 230h2v1h-2zM422 230h9v1h-9zM432 230h2v1h-2zM435 230h4v1h-4zM443 230h1v1h-1zM445 230h1v1h-1zM463 230h1v1h-1zM57 231h2v1h-2zM68 231h1v1h-1zM77 231h2v1h-2zM81 231h3v1h-3zM85 231h4v1h-4zM91 231h24v1h-24zM117 231h3v1h-3zM121 231h2v1h-2zM124 231h1v1h-1zM126 231h1v1h-1zM220 231h1v1h-1zM222 231h1v1h-1zM226 231h9v1h-9zM237 231h3v1h-3zM241 231h5v1h-5zM248 231h4v1h-4zM258 231h2v1h-2zM261 231h8v1h-8zM270 231h20v1h-20zM292 231h2v1h-2zM295 231h1v1h-1zM297 231h1v1h-1zM386 231h4v1h-4zM391 231h6v1h-6zM398 231h2v1h-2zM401 231h1v1h-1zM403 231h5v1h-5zM410 231h7v1h-7zM419 231h2v1h-2zM422 231h10v1h-10zM434 231h2v1h-2zM438 231h6v1h-6zM449 231h2v1h-2zM452 231h1v1h-1zM476 231h1v1h-1zM56 232h1v1h-1zM65 232h1v1h-1zM67 232h2v1h-2zM70 232h1v1h-1zM73 232h2v1h-2zM79 232h2v1h-2zM82 232h1v1h-1zM84 232h1v1h-1zM86 232h8v1h-8zM95 232h6v1h-6zM102 232h3v1h-3zM106 232h2v1h-2zM109 232h2v1h-2zM112 232h4v1h-4zM128 232h1v1h-1zM134 232h1v1h-1zM220 232h7v1h-7zM228 232h5v1h-5zM234 232h11v1h-11zM247 232h4v1h-4zM252 232h1v1h-1zM256 232h34v1h-34zM291 232h2v1h-2zM295 232h1v1h-1zM316 232h1v1h-1zM384 232h3v1h-3zM389 232h1v1h-1zM391 232h1v1h-1zM393 232h1v1h-1zM395 232h7v1h-7zM403 232h5v1h-5zM409 232h9v1h-9zM419 232h3v1h-3zM423 232h6v1h-6zM430 232h4v1h-4zM435 232h1v1h-1zM437 232h1v1h-1zM440 232h2v1h-2zM443 232h2v1h-2zM446 232h1v1h-1zM450 232h3v1h-3zM455 232h1v1h-1zM457 232h2v1h-2zM62 233h3v1h-3zM77 233h1v1h-1zM80 233h1v1h-1zM82 233h2v1h-2zM85 233h5v1h-5zM91 233h1v1h-1zM94 233h3v1h-3zM98 233h5v1h-5zM104 233h1v1h-1zM106 233h2v1h-2zM109 233h2v1h-2zM113 233h1v1h-1zM115 233h2v1h-2zM219 233h4v1h-4zM229 233h9v1h-9zM239 233h6v1h-6zM246 233h2v1h-2zM249 233h3v1h-3zM253 233h7v1h-7zM262 233h3v1h-3zM266 233h10v1h-10zM277 233h11v1h-11zM290 233h5v1h-5zM296 233h2v1h-2zM302 233h1v1h-1zM384 233h1v1h-1zM386 233h14v1h-14zM401 233h3v1h-3zM406 233h5v1h-5zM412 233h2v1h-2zM415 233h4v1h-4zM420 233h8v1h-8zM429 233h3v1h-3zM433 233h2v1h-2zM436 233h2v1h-2zM439 233h1v1h-1zM441 233h1v1h-1zM443 233h4v1h-4zM448 233h2v1h-2zM451 233h1v1h-1zM467 233h1v1h-1zM469 233h1v1h-1zM58 234h1v1h-1zM62 234h1v1h-1zM69 234h3v1h-3zM73 234h1v1h-1zM75 234h2v1h-2zM78 234h1v1h-1zM81 234h2v1h-2zM84 234h12v1h-12zM97 234h2v1h-2zM101 234h1v1h-1zM103 234h5v1h-5zM112 234h1v1h-1zM220 234h1v1h-1zM222 234h1v1h-1zM224 234h2v1h-2zM227 234h1v1h-1zM229 234h2v1h-2zM232 234h2v1h-2zM235 234h3v1h-3zM240 234h1v1h-1zM242 234h3v1h-3zM246 234h2v1h-2zM249 234h1v1h-1zM252 234h4v1h-4zM257 234h17v1h-17zM275 234h5v1h-5zM281 234h2v1h-2zM285 234h2v1h-2zM288 234h3v1h-3zM293 234h1v1h-1zM296 234h1v1h-1zM385 234h8v1h-8zM394 234h1v1h-1zM396 234h17v1h-17zM414 234h10v1h-10zM425 234h2v1h-2zM428 234h4v1h-4zM433 234h6v1h-6zM440 234h2v1h-2zM443 234h2v1h-2zM446 234h2v1h-2zM449 234h1v1h-1zM453 234h2v1h-2zM63 235h1v1h-1zM69 235h1v1h-1zM75 235h8v1h-8zM84 235h8v1h-8zM93 235h2v1h-2zM96 235h5v1h-5zM102 235h4v1h-4zM134 235h1v1h-1zM219 235h1v1h-1zM222 235h1v1h-1zM224 235h11v1h-11zM236 235h1v1h-1zM238 235h1v1h-1zM240 235h9v1h-9zM251 235h27v1h-27zM280 235h3v1h-3zM284 235h3v1h-3zM294 235h1v1h-1zM384 235h4v1h-4zM389 235h3v1h-3zM393 235h22v1h-22zM416 235h1v1h-1zM418 235h4v1h-4zM424 235h9v1h-9zM434 235h4v1h-4zM439 235h2v1h-2zM442 235h2v1h-2zM445 235h2v1h-2zM448 235h1v1h-1zM456 235h1v1h-1zM461 235h1v1h-1zM471 235h1v1h-1zM58 236h1v1h-1zM63 236h1v1h-1zM65 236h1v1h-1zM67 236h1v1h-1zM70 236h2v1h-2zM74 236h1v1h-1zM80 236h2v1h-2zM83 236h1v1h-1zM85 236h2v1h-2zM88 236h2v1h-2zM91 236h2v1h-2zM95 236h1v1h-1zM106 236h1v1h-1zM113 236h1v1h-1zM219 236h2v1h-2zM223 236h6v1h-6zM230 236h10v1h-10zM242 236h8v1h-8zM251 236h2v1h-2zM254 236h14v1h-14zM269 236h5v1h-5zM277 236h4v1h-4zM282 236h4v1h-4zM287 236h1v1h-1zM300 236h1v1h-1zM384 236h12v1h-12zM397 236h11v1h-11zM409 236h1v1h-1zM411 236h5v1h-5zM417 236h6v1h-6zM424 236h2v1h-2zM427 236h3v1h-3zM431 236h5v1h-5zM437 236h6v1h-6zM444 236h2v1h-2zM449 236h2v1h-2zM453 236h1v1h-1zM458 236h1v1h-1zM462 236h1v1h-1zM71 237h2v1h-2zM79 237h2v1h-2zM82 237h3v1h-3zM86 237h1v1h-1zM88 237h4v1h-4zM106 237h1v1h-1zM219 237h1v1h-1zM225 237h6v1h-6zM232 237h11v1h-11zM244 237h22v1h-22zM268 237h1v1h-1zM270 237h1v1h-1zM272 237h2v1h-2zM275 237h1v1h-1zM282 237h1v1h-1zM384 237h1v1h-1zM386 237h16v1h-16zM403 237h6v1h-6zM410 237h1v1h-1zM412 237h1v1h-1zM414 237h13v1h-13zM428 237h2v1h-2zM431 237h3v1h-3zM436 237h7v1h-7zM444 237h3v1h-3zM448 237h1v1h-1zM450 237h2v1h-2zM455 237h1v1h-1zM463 237h1v1h-1zM491 237h1v1h-1zM64 238h1v1h-1zM66 238h2v1h-2zM69 238h1v1h-1zM72 238h1v1h-1zM75 238h1v1h-1zM78 238h1v1h-1zM82 238h1v1h-1zM92 238h1v1h-1zM96 238h1v1h-1zM98 238h1v1h-1zM100 238h1v1h-1zM219 238h1v1h-1zM221 238h3v1h-3zM225 238h4v1h-4zM230 238h1v1h-1zM232 238h8v1h-8zM241 238h6v1h-6zM249 238h10v1h-10zM260 238h1v1h-1zM264 238h4v1h-4zM269 238h2v1h-2zM272 238h2v1h-2zM275 238h2v1h-2zM384 238h1v1h-1zM387 238h5v1h-5zM393 238h10v1h-10zM405 238h9v1h-9zM415 238h3v1h-3zM419 238h1v1h-1zM421 238h8v1h-8zM430 238h8v1h-8zM439 238h1v1h-1zM441 238h2v1h-2zM448 238h1v1h-1zM450 238h1v1h-1zM452 238h1v1h-1zM457 238h1v1h-1zM59 239h2v1h-2zM71 239h2v1h-2zM78 239h1v1h-1zM92 239h1v1h-1zM100 239h1v1h-1zM220 239h1v1h-1zM224 239h1v1h-1zM227 239h2v1h-2zM230 239h1v1h-1zM232 239h1v1h-1zM234 239h1v1h-1zM236 239h5v1h-5zM242 239h3v1h-3zM246 239h4v1h-4zM251 239h2v1h-2zM254 239h2v1h-2zM257 239h5v1h-5zM263 239h4v1h-4zM271 239h1v1h-1zM273 239h3v1h-3zM277 239h2v1h-2zM280 239h1v1h-1zM384 239h2v1h-2zM388 239h1v1h-1zM390 239h16v1h-16zM407 239h1v1h-1zM409 239h1v1h-1zM412 239h7v1h-7zM420 239h1v1h-1zM423 239h9v1h-9zM433 239h1v1h-1zM435 239h6v1h-6zM442 239h4v1h-4zM448 239h1v1h-1zM453 239h1v1h-1zM458 239h1v1h-1zM64 240h1v1h-1zM68 240h3v1h-3zM80 240h1v1h-1zM219 240h3v1h-3zM227 240h2v1h-2zM230 240h13v1h-13zM244 240h2v1h-2zM247 240h2v1h-2zM250 240h10v1h-10zM266 240h1v1h-1zM268 240h1v1h-1zM273 240h1v1h-1zM275 240h5v1h-5zM384 240h3v1h-3zM388 240h2v1h-2zM393 240h2v1h-2zM396 240h9v1h-9zM406 240h17v1h-17zM424 240h2v1h-2zM427 240h3v1h-3zM431 240h2v1h-2zM436 240h7v1h-7zM444 240h1v1h-1zM451 240h2v1h-2zM456 240h1v1h-1zM60 241h1v1h-1zM75 241h1v1h-1zM96 241h1v1h-1zM222 241h7v1h-7zM230 241h10v1h-10zM241 241h7v1h-7zM249 241h1v1h-1zM251 241h4v1h-4zM256 241h1v1h-1zM258 241h2v1h-2zM261 241h2v1h-2zM264 241h2v1h-2zM269 241h2v1h-2zM277 241h1v1h-1zM384 241h1v1h-1zM386 241h16v1h-16zM403 241h5v1h-5zM410 241h5v1h-5zM416 241h5v1h-5zM422 241h7v1h-7zM430 241h2v1h-2zM433 241h1v1h-1zM435 241h1v1h-1zM437 241h2v1h-2zM440 241h5v1h-5zM451 241h1v1h-1zM455 241h1v1h-1zM459 241h1v1h-1zM224 242h6v1h-6zM231 242h1v1h-1zM233 242h2v1h-2zM236 242h2v1h-2zM239 242h2v1h-2zM242 242h4v1h-4zM248 242h1v1h-1zM250 242h2v1h-2zM255 242h9v1h-9zM270 242h1v1h-1zM385 242h4v1h-4zM390 242h4v1h-4zM396 242h11v1h-11zM408 242h10v1h-10zM419 242h1v1h-1zM423 242h3v1h-3zM427 242h1v1h-1zM430 242h4v1h-4zM435 242h1v1h-1zM438 242h1v1h-1zM443 242h4v1h-4zM449 242h1v1h-1zM223 243h1v1h-1zM227 243h2v1h-2zM231 243h2v1h-2zM235 243h1v1h-1zM237 243h7v1h-7zM245 243h3v1h-3zM249 243h4v1h-4zM256 243h1v1h-1zM258 243h2v1h-2zM262 243h1v1h-1zM264 243h1v1h-1zM384 243h1v1h-1zM386 243h1v1h-1zM388 243h2v1h-2zM392 243h2v1h-2zM395 243h3v1h-3zM399 243h5v1h-5zM407 243h5v1h-5zM414 243h1v1h-1zM416 243h4v1h-4zM421 243h1v1h-1zM423 243h1v1h-1zM427 243h3v1h-3zM432 243h3v1h-3zM440 243h2v1h-2zM443 243h1v1h-1zM446 243h1v1h-1zM223 244h1v1h-1zM226 244h1v1h-1zM229 244h3v1h-3zM233 244h2v1h-2zM236 244h1v1h-1zM238 244h1v1h-1zM243 244h2v1h-2zM247 244h1v1h-1zM249 244h1v1h-1zM252 244h3v1h-3zM386 244h1v1h-1zM388 244h1v1h-1zM391 244h3v1h-3zM398 244h8v1h-8zM407 244h7v1h-7zM416 244h3v1h-3zM420 244h5v1h-5zM426 244h1v1h-1zM430 244h3v1h-3zM66 292h1v1h-1zM91 292h1v1h-1zM95 292h1v1h-1zM99 292h1v1h-1zM134 292h1v1h-1zM150 292h1v1h-1zM156 292h2v1h-2zM159 292h1v1h-1zM161 292h1v1h-1zM222 292h1v1h-1zM229 292h2v1h-2zM238 292h1v1h-1zM247 292h1v1h-1zM251 292h1v1h-1zM254 292h1v1h-1zM262 292h1v1h-1zM270 292h1v1h-1zM287 292h1v1h-1zM300 292h2v1h-2zM304 292h1v1h-1zM307 292h2v1h-2zM314 292h1v1h-1zM336 292h1v1h-1zM402 292h2v1h-2zM411 292h1v1h-1zM481 292h1v1h-1zM509 292h1v1h-1zM100 293h1v1h-1zM223 293h1v1h-1zM390 293h1v1h-1zM397 293h1v1h-1zM406 293h1v1h-1zM425 293h1v1h-1zM442 293h1v1h-1zM446 293h1v1h-1zM462 293h1v1h-1zM505 293h1v1h-1zM508 293h1v1h-1zM224 295h3v1h-3zM276 295h1v1h-1zM393 295h1v1h-1zM393 296h1v1h-1zM65 297h1v1h-1zM228 297h1v1h-1zM148 298h1v1h-1zM225 298h1v1h-1zM227 298h1v1h-1zM412 298h1v1h-1zM410 299h1v1h-1zM143 300h1v1h-1zM234 300h1v1h-1zM255 300h1v1h-1zM320 300h1v1h-1zM144 301h1v1h-1zM221 301h1v1h-1zM231 302h1v1h-1zM390 302h1v1h-1zM221 303h1v1h-1zM394 303h1v1h-1zM85 304h1v1h-1zM104 305h1v1h-1zM124 305h1v1h-1zM126 305h1v1h-1zM223 305h1v1h-1zM231 305h1v1h-1zM465 305h1v1h-1zM471 305h1v1h-1zM124 306h1v1h-1zM235 306h1v1h-1zM304 307h1v1h-1zM59 308h1v1h-1zM121 308h1v1h-1zM230 308h1v1h-1zM234 308h1v1h-1zM71 309h1v1h-1zM222 309h1v1h-1zM258 309h1v1h-1zM325 309h1v1h-1zM113 310h1v1h-1zM222 310h1v1h-1zM229 310h1v1h-1zM221 311h1v1h-1zM242 311h1v1h-1zM227 313h1v1h-1zM230 313h1v1h-1zM388 313h2v1h-2zM231 314h1v1h-1zM333 314h1v1h-1zM155 315h1v1h-1zM176 315h1v1h-1zM178 315h1v1h-1zM173 316h1v1h-1zM220 316h1v1h-1zM489 316h1v1h-1zM164 317h1v1h-1zM168 317h1v1h-1zM226 317h1v1h-1zM402 317h1v1h-1zM90 318h1v1h-1zM161 318h1v1h-1zM168 318h1v1h-1zM224 318h1v1h-1zM232 318h1v1h-1zM227 319h1v1h-1zM478 319h1v1h-1zM94 320h1v1h-1zM150 320h1v1h-1zM245 320h1v1h-1zM339 320h1v1h-1zM399 320h1v1h-1zM79 321h1v1h-1zM81 321h1v1h-1zM133 321h1v1h-1zM225 321h1v1h-1zM336 321h1v1h-1zM176 322h1v1h-1zM222 322h1v1h-1zM266 322h1v1h-1zM395 322h1v1h-1zM401 322h2v1h-2zM413 322h1v1h-1zM443 322h1v1h-1zM454 322h1v1h-1zM68 323h1v1h-1zM176 323h1v1h-1zM235 323h1v1h-1zM238 323h1v1h-1zM387 323h1v1h-1zM423 323h1v1h-1zM454 323h1v1h-1zM98 324h1v1h-1zM114 324h1v1h-1zM167 324h1v1h-1zM228 324h1v1h-1zM255 324h1v1h-1zM449 324h1v1h-1zM76 325h1v1h-1zM83 325h1v1h-1zM160 325h1v1h-1zM221 325h1v1h-1zM241 325h1v1h-1zM243 325h1v1h-1zM275 325h1v1h-1zM416 325h1v1h-1zM59 326h1v1h-1zM76 326h1v1h-1zM87 326h1v1h-1zM163 326h1v1h-1zM222 326h2v1h-2zM391 326h1v1h-1zM421 326h1v1h-1zM62 327h1v1h-1zM134 327h1v1h-1zM141 327h1v1h-1zM148 327h2v1h-2zM179 327h1v1h-1zM227 327h2v1h-2zM247 327h1v1h-1zM398 327h1v1h-1zM400 327h1v1h-1zM402 327h1v1h-1zM413 327h1v1h-1zM73 328h1v1h-1zM166 328h1v1h-1zM227 328h1v1h-1zM233 328h1v1h-1zM241 328h3v1h-3zM263 328h2v1h-2zM311 328h1v1h-1zM324 328h1v1h-1zM401 328h1v1h-1zM438 328h1v1h-1zM79 329h1v1h-1zM82 329h1v1h-1zM167 329h1v1h-1zM169 329h1v1h-1zM220 329h1v1h-1zM228 329h2v1h-2zM231 329h1v1h-1zM235 329h1v1h-1zM409 329h1v1h-1zM59 330h1v1h-1zM99 330h1v1h-1zM144 330h1v1h-1zM234 330h1v1h-1zM414 330h1v1h-1zM444 330h1v1h-1zM66 331h1v1h-1zM229 331h1v1h-1zM273 331h1v1h-1zM283 331h1v1h-1zM391 331h1v1h-1zM394 331h1v1h-1zM447 331h1v1h-1zM461 331h1v1h-1zM494 331h1v1h-1zM500 331h1v1h-1zM124 332h1v1h-1zM144 332h1v1h-1zM149 332h1v1h-1zM237 332h1v1h-1zM246 332h1v1h-1zM264 332h1v1h-1zM388 332h1v1h-1zM392 332h2v1h-2zM397 332h1v1h-1zM402 332h1v1h-1zM409 332h1v1h-1zM438 332h1v1h-1zM443 332h1v1h-1zM67 333h1v1h-1zM73 333h1v1h-1zM82 333h1v1h-1zM98 333h1v1h-1zM122 333h1v1h-1zM152 333h1v1h-1zM222 333h1v1h-1zM233 333h1v1h-1zM260 333h1v1h-1zM310 333h1v1h-1zM325 333h1v1h-1zM409 333h1v1h-1zM441 333h1v1h-1zM444 333h1v1h-1zM446 333h1v1h-1zM476 333h1v1h-1zM61 334h1v1h-1zM182 334h1v1h-1zM225 334h1v1h-1zM239 334h1v1h-1zM259 334h1v1h-1zM387 334h1v1h-1zM405 334h1v1h-1zM61 335h2v1h-2zM81 335h1v1h-1zM169 335h1v1h-1zM224 335h1v1h-1zM226 335h1v1h-1zM254 335h1v1h-1zM261 335h1v1h-1zM265 335h1v1h-1zM270 335h1v1h-1zM308 335h1v1h-1zM341 335h1v1h-1zM389 335h1v1h-1zM391 335h1v1h-1zM395 335h1v1h-1zM421 335h1v1h-1zM431 335h1v1h-1zM444 335h1v1h-1zM447 335h1v1h-1zM64 336h1v1h-1zM82 336h1v1h-1zM136 336h1v1h-1zM142 336h1v1h-1zM155 336h1v1h-1zM164 336h1v1h-1zM231 336h3v1h-3zM238 336h1v1h-1zM257 336h2v1h-2zM261 336h1v1h-1zM267 336h2v1h-2zM397 336h1v1h-1zM439 336h2v1h-2zM63 337h2v1h-2zM74 337h1v1h-1zM78 337h1v1h-1zM80 337h1v1h-1zM84 337h1v1h-1zM91 337h1v1h-1zM99 337h1v1h-1zM106 337h1v1h-1zM140 337h1v1h-1zM153 337h1v1h-1zM224 337h2v1h-2zM227 337h1v1h-1zM243 337h1v1h-1zM262 337h1v1h-1zM302 337h1v1h-1zM411 337h1v1h-1zM432 337h1v1h-1zM67 338h1v1h-1zM85 338h1v1h-1zM89 338h1v1h-1zM126 338h1v1h-1zM141 338h1v1h-1zM155 338h1v1h-1zM230 338h1v1h-1zM240 338h1v1h-1zM257 338h2v1h-2zM267 338h1v1h-1zM399 338h1v1h-1zM403 338h1v1h-1zM406 338h1v1h-1zM435 338h1v1h-1zM443 338h1v1h-1zM61 339h2v1h-2zM78 339h1v1h-1zM143 339h1v1h-1zM161 339h1v1h-1zM165 339h1v1h-1zM240 339h1v1h-1zM251 339h1v1h-1zM254 339h1v1h-1zM258 339h1v1h-1zM262 339h1v1h-1zM389 339h1v1h-1zM403 339h1v1h-1zM406 339h1v1h-1zM408 339h1v1h-1zM422 339h1v1h-1zM428 339h1v1h-1zM431 339h1v1h-1zM433 339h1v1h-1zM435 339h2v1h-2zM440 339h1v1h-1zM496 339h1v1h-1zM63 340h1v1h-1zM79 340h1v1h-1zM81 340h1v1h-1zM94 340h1v1h-1zM151 340h1v1h-1zM153 340h1v1h-1zM164 340h1v1h-1zM221 340h4v1h-4zM226 340h1v1h-1zM232 340h2v1h-2zM249 340h1v1h-1zM251 340h1v1h-1zM255 340h3v1h-3zM260 340h2v1h-2zM265 340h1v1h-1zM392 340h1v1h-1zM401 340h1v1h-1zM406 340h1v1h-1zM408 340h1v1h-1zM411 340h1v1h-1zM432 340h1v1h-1zM443 340h1v1h-1zM503 340h1v1h-1zM65 341h1v1h-1zM75 341h1v1h-1zM77 341h1v1h-1zM79 341h1v1h-1zM89 341h1v1h-1zM123 341h1v1h-1zM126 341h1v1h-1zM136 341h1v1h-1zM141 341h1v1h-1zM161 341h1v1h-1zM223 341h1v1h-1zM242 341h2v1h-2zM248 341h2v1h-2zM257 341h1v1h-1zM259 341h3v1h-3zM323 341h1v1h-1zM388 341h1v1h-1zM398 341h1v1h-1zM402 341h2v1h-2zM408 341h1v1h-1zM412 341h1v1h-1zM432 341h1v1h-1zM437 341h1v1h-1zM440 341h1v1h-1zM73 342h1v1h-1zM78 342h1v1h-1zM83 342h1v1h-1zM96 342h1v1h-1zM100 342h1v1h-1zM148 342h1v1h-1zM152 342h1v1h-1zM161 342h1v1h-1zM220 342h1v1h-1zM224 342h1v1h-1zM235 342h2v1h-2zM241 342h1v1h-1zM247 342h1v1h-1zM258 342h1v1h-1zM263 342h1v1h-1zM302 342h1v1h-1zM389 342h1v1h-1zM399 342h1v1h-1zM401 342h2v1h-2zM416 342h1v1h-1zM426 342h1v1h-1zM429 342h1v1h-1zM443 342h1v1h-1zM73 343h1v1h-1zM77 343h1v1h-1zM80 343h2v1h-2zM85 343h1v1h-1zM89 343h1v1h-1zM91 343h1v1h-1zM150 343h1v1h-1zM154 343h1v1h-1zM158 343h1v1h-1zM162 343h1v1h-1zM170 343h1v1h-1zM173 343h1v1h-1zM220 343h2v1h-2zM228 343h1v1h-1zM233 343h1v1h-1zM243 343h2v1h-2zM251 343h1v1h-1zM254 343h1v1h-1zM257 343h1v1h-1zM385 343h1v1h-1zM396 343h1v1h-1zM399 343h2v1h-2zM427 343h1v1h-1zM437 343h1v1h-1zM440 343h2v1h-2zM61 344h1v1h-1zM88 344h1v1h-1zM156 344h1v1h-1zM166 344h1v1h-1zM222 344h1v1h-1zM230 344h1v1h-1zM234 344h1v1h-1zM245 344h1v1h-1zM248 344h1v1h-1zM253 344h1v1h-1zM256 344h1v1h-1zM299 344h1v1h-1zM396 344h2v1h-2zM401 344h1v1h-1zM404 344h1v1h-1zM419 344h1v1h-1zM432 344h1v1h-1zM435 344h1v1h-1zM437 344h1v1h-1zM477 344h1v1h-1zM56 345h1v1h-1zM61 345h1v1h-1zM65 345h1v1h-1zM74 345h1v1h-1zM79 345h1v1h-1zM81 345h1v1h-1zM88 345h1v1h-1zM90 345h1v1h-1zM147 345h1v1h-1zM156 345h1v1h-1zM169 345h1v1h-1zM227 345h1v1h-1zM230 345h1v1h-1zM232 345h1v1h-1zM245 345h1v1h-1zM248 345h1v1h-1zM251 345h3v1h-3zM255 345h1v1h-1zM260 345h2v1h-2zM391 345h1v1h-1zM393 345h1v1h-1zM397 345h2v1h-2zM422 345h1v1h-1zM428 345h2v1h-2zM437 345h2v1h-2zM63 346h1v1h-1zM65 346h2v1h-2zM70 346h2v1h-2zM73 346h1v1h-1zM80 346h1v1h-1zM84 346h1v1h-1zM92 346h1v1h-1zM150 346h1v1h-1zM154 346h1v1h-1zM232 346h1v1h-1zM239 346h1v1h-1zM247 346h1v1h-1zM251 346h1v1h-1zM254 346h1v1h-1zM260 346h1v1h-1zM320 346h1v1h-1zM336 346h1v1h-1zM392 346h1v1h-1zM394 346h1v1h-1zM396 346h1v1h-1zM403 346h1v1h-1zM410 346h1v1h-1zM424 346h2v1h-2zM427 346h1v1h-1zM431 346h2v1h-2zM436 346h1v1h-1zM439 346h1v1h-1zM55 347h1v1h-1zM57 347h1v1h-1zM65 347h1v1h-1zM75 347h1v1h-1zM91 347h1v1h-1zM123 347h1v1h-1zM125 347h1v1h-1zM129 347h1v1h-1zM138 347h1v1h-1zM151 347h1v1h-1zM173 347h1v1h-1zM237 347h1v1h-1zM240 347h2v1h-2zM243 347h1v1h-1zM246 347h1v1h-1zM249 347h1v1h-1zM251 347h1v1h-1zM253 347h1v1h-1zM255 347h1v1h-1zM264 347h1v1h-1zM296 347h1v1h-1zM302 347h1v1h-1zM326 347h1v1h-1zM396 347h1v1h-1zM398 347h1v1h-1zM410 347h1v1h-1zM420 347h1v1h-1zM427 347h1v1h-1zM429 347h1v1h-1zM432 347h1v1h-1zM435 347h1v1h-1zM62 348h1v1h-1zM66 348h2v1h-2zM71 348h1v1h-1zM87 348h1v1h-1zM140 348h1v1h-1zM166 348h1v1h-1zM177 348h1v1h-1zM226 348h1v1h-1zM231 348h1v1h-1zM235 348h2v1h-2zM239 348h1v1h-1zM249 348h3v1h-3zM254 348h1v1h-1zM262 348h1v1h-1zM303 348h1v1h-1zM319 348h2v1h-2zM385 348h1v1h-1zM388 348h1v1h-1zM391 348h1v1h-1zM394 348h1v1h-1zM396 348h1v1h-1zM398 348h3v1h-3zM407 348h1v1h-1zM413 348h1v1h-1zM417 348h3v1h-3zM424 348h1v1h-1zM428 348h1v1h-1zM430 348h1v1h-1zM433 348h1v1h-1zM63 349h1v1h-1zM69 349h1v1h-1zM74 349h1v1h-1zM76 349h2v1h-2zM89 349h1v1h-1zM94 349h1v1h-1zM109 349h1v1h-1zM114 349h1v1h-1zM117 349h1v1h-1zM134 349h1v1h-1zM146 349h2v1h-2zM152 349h2v1h-2zM182 349h1v1h-1zM229 349h1v1h-1zM232 349h1v1h-1zM237 349h1v1h-1zM244 349h3v1h-3zM248 349h1v1h-1zM250 349h1v1h-1zM316 349h2v1h-2zM325 349h1v1h-1zM388 349h1v1h-1zM392 349h1v1h-1zM394 349h2v1h-2zM413 349h1v1h-1zM419 349h1v1h-1zM421 349h1v1h-1zM428 349h1v1h-1zM430 349h1v1h-1zM434 349h2v1h-2zM62 350h1v1h-1zM65 350h1v1h-1zM69 350h2v1h-2zM76 350h1v1h-1zM80 350h2v1h-2zM93 350h1v1h-1zM126 350h1v1h-1zM135 350h1v1h-1zM139 350h1v1h-1zM147 350h1v1h-1zM220 350h1v1h-1zM222 350h1v1h-1zM230 350h1v1h-1zM235 350h2v1h-2zM238 350h1v1h-1zM241 350h1v1h-1zM244 350h1v1h-1zM247 350h1v1h-1zM249 350h2v1h-2zM257 350h1v1h-1zM259 350h1v1h-1zM287 350h1v1h-1zM293 350h1v1h-1zM295 350h1v1h-1zM310 350h1v1h-1zM323 350h1v1h-1zM325 350h1v1h-1zM389 350h1v1h-1zM396 350h1v1h-1zM399 350h1v1h-1zM413 350h1v1h-1zM416 350h2v1h-2zM425 350h2v1h-2zM436 350h1v1h-1zM55 351h1v1h-1zM62 351h1v1h-1zM69 351h3v1h-3zM73 351h1v1h-1zM77 351h1v1h-1zM89 351h2v1h-2zM145 351h1v1h-1zM148 351h1v1h-1zM161 351h1v1h-1zM163 351h2v1h-2zM167 351h1v1h-1zM177 351h1v1h-1zM224 351h1v1h-1zM232 351h1v1h-1zM237 351h1v1h-1zM241 351h1v1h-1zM245 351h1v1h-1zM248 351h1v1h-1zM250 351h4v1h-4zM258 351h1v1h-1zM311 351h1v1h-1zM313 351h1v1h-1zM330 351h1v1h-1zM386 351h1v1h-1zM390 351h1v1h-1zM394 351h3v1h-3zM399 351h1v1h-1zM402 351h2v1h-2zM407 351h4v1h-4zM423 351h1v1h-1zM426 351h1v1h-1zM430 351h1v1h-1zM57 352h1v1h-1zM68 352h2v1h-2zM71 352h2v1h-2zM79 352h1v1h-1zM81 352h1v1h-1zM84 352h1v1h-1zM88 352h2v1h-2zM92 352h1v1h-1zM120 352h1v1h-1zM145 352h1v1h-1zM148 352h1v1h-1zM154 352h1v1h-1zM161 352h1v1h-1zM172 352h1v1h-1zM225 352h1v1h-1zM227 352h1v1h-1zM229 352h4v1h-4zM235 352h1v1h-1zM239 352h1v1h-1zM241 352h1v1h-1zM243 352h1v1h-1zM245 352h1v1h-1zM249 352h1v1h-1zM297 352h1v1h-1zM311 352h1v1h-1zM324 352h1v1h-1zM326 352h1v1h-1zM328 352h1v1h-1zM388 352h1v1h-1zM390 352h1v1h-1zM392 352h2v1h-2zM395 352h3v1h-3zM405 352h1v1h-1zM407 352h1v1h-1zM409 352h1v1h-1zM411 352h1v1h-1zM413 352h1v1h-1zM418 352h1v1h-1zM424 352h1v1h-1zM57 353h1v1h-1zM64 353h2v1h-2zM71 353h1v1h-1zM77 353h1v1h-1zM82 353h1v1h-1zM86 353h1v1h-1zM114 353h1v1h-1zM146 353h1v1h-1zM150 353h1v1h-1zM160 353h1v1h-1zM167 353h1v1h-1zM222 353h1v1h-1zM224 353h1v1h-1zM239 353h3v1h-3zM246 353h2v1h-2zM249 353h1v1h-1zM252 353h2v1h-2zM310 353h1v1h-1zM314 353h1v1h-1zM322 353h1v1h-1zM387 353h1v1h-1zM389 353h1v1h-1zM391 353h4v1h-4zM396 353h2v1h-2zM401 353h2v1h-2zM405 353h1v1h-1zM412 353h1v1h-1zM414 353h1v1h-1zM419 353h1v1h-1zM421 353h1v1h-1zM423 353h2v1h-2zM57 354h1v1h-1zM64 354h2v1h-2zM71 354h2v1h-2zM76 354h1v1h-1zM88 354h1v1h-1zM96 354h1v1h-1zM104 354h1v1h-1zM110 354h1v1h-1zM118 354h1v1h-1zM122 354h1v1h-1zM131 354h1v1h-1zM138 354h1v1h-1zM147 354h1v1h-1zM154 354h1v1h-1zM157 354h1v1h-1zM223 354h1v1h-1zM226 354h1v1h-1zM228 354h2v1h-2zM231 354h1v1h-1zM234 354h1v1h-1zM236 354h2v1h-2zM241 354h1v1h-1zM243 354h1v1h-1zM245 354h3v1h-3zM249 354h2v1h-2zM296 354h1v1h-1zM311 354h1v1h-1zM315 354h1v1h-1zM320 354h1v1h-1zM326 354h1v1h-1zM385 354h1v1h-1zM387 354h2v1h-2zM391 354h1v1h-1zM394 354h4v1h-4zM399 354h2v1h-2zM402 354h3v1h-3zM407 354h1v1h-1zM416 354h1v1h-1zM420 354h2v1h-2zM426 354h2v1h-2zM429 354h1v1h-1zM485 354h1v1h-1zM57 355h1v1h-1zM64 355h2v1h-2zM68 355h1v1h-1zM71 355h1v1h-1zM73 355h1v1h-1zM76 355h1v1h-1zM78 355h1v1h-1zM82 355h1v1h-1zM88 355h1v1h-1zM94 355h1v1h-1zM140 355h1v1h-1zM146 355h1v1h-1zM149 355h1v1h-1zM151 355h1v1h-1zM157 355h1v1h-1zM162 355h1v1h-1zM229 355h2v1h-2zM233 355h1v1h-1zM235 355h1v1h-1zM238 355h2v1h-2zM241 355h1v1h-1zM244 355h3v1h-3zM248 355h1v1h-1zM251 355h1v1h-1zM257 355h1v1h-1zM291 355h2v1h-2zM298 355h1v1h-1zM300 355h1v1h-1zM302 355h1v1h-1zM308 355h1v1h-1zM312 355h1v1h-1zM387 355h1v1h-1zM391 355h2v1h-2zM394 355h1v1h-1zM396 355h1v1h-1zM401 355h2v1h-2zM404 355h2v1h-2zM409 355h2v1h-2zM414 355h2v1h-2zM421 355h2v1h-2zM425 355h1v1h-1zM63 356h1v1h-1zM65 356h1v1h-1zM67 356h1v1h-1zM74 356h1v1h-1zM76 356h1v1h-1zM81 356h1v1h-1zM83 356h1v1h-1zM85 356h1v1h-1zM96 356h1v1h-1zM128 356h1v1h-1zM139 356h1v1h-1zM142 356h2v1h-2zM145 356h1v1h-1zM147 356h2v1h-2zM151 356h1v1h-1zM153 356h2v1h-2zM225 356h1v1h-1zM228 356h1v1h-1zM232 356h2v1h-2zM239 356h1v1h-1zM242 356h1v1h-1zM244 356h1v1h-1zM246 356h1v1h-1zM248 356h1v1h-1zM265 356h1v1h-1zM284 356h1v1h-1zM296 356h2v1h-2zM303 356h1v1h-1zM312 356h2v1h-2zM315 356h1v1h-1zM321 356h2v1h-2zM387 356h5v1h-5zM394 356h2v1h-2zM397 356h5v1h-5zM403 356h4v1h-4zM410 356h1v1h-1zM412 356h1v1h-1zM415 356h4v1h-4zM476 356h1v1h-1zM56 357h2v1h-2zM61 357h1v1h-1zM63 357h1v1h-1zM65 357h1v1h-1zM67 357h2v1h-2zM75 357h1v1h-1zM88 357h2v1h-2zM131 357h2v1h-2zM148 357h1v1h-1zM151 357h1v1h-1zM220 357h1v1h-1zM223 357h1v1h-1zM228 357h2v1h-2zM232 357h1v1h-1zM236 357h1v1h-1zM238 357h1v1h-1zM240 357h1v1h-1zM242 357h3v1h-3zM246 357h4v1h-4zM251 357h1v1h-1zM254 357h1v1h-1zM282 357h1v1h-1zM291 357h1v1h-1zM295 357h1v1h-1zM301 357h3v1h-3zM305 357h1v1h-1zM309 357h3v1h-3zM315 357h1v1h-1zM390 357h8v1h-8zM399 357h1v1h-1zM401 357h1v1h-1zM404 357h3v1h-3zM413 357h1v1h-1zM420 357h1v1h-1zM422 357h3v1h-3zM60 358h1v1h-1zM63 358h1v1h-1zM75 358h1v1h-1zM77 358h1v1h-1zM97 358h1v1h-1zM125 358h1v1h-1zM128 358h2v1h-2zM133 358h1v1h-1zM135 358h1v1h-1zM138 358h1v1h-1zM141 358h1v1h-1zM146 358h1v1h-1zM148 358h1v1h-1zM151 358h3v1h-3zM161 358h1v1h-1zM167 358h1v1h-1zM222 358h1v1h-1zM225 358h2v1h-2zM229 358h1v1h-1zM232 358h2v1h-2zM236 358h4v1h-4zM249 358h1v1h-1zM259 358h1v1h-1zM271 358h1v1h-1zM291 358h2v1h-2zM295 358h3v1h-3zM300 358h1v1h-1zM304 358h2v1h-2zM308 358h2v1h-2zM312 358h2v1h-2zM315 358h1v1h-1zM324 358h2v1h-2zM327 358h1v1h-1zM386 358h2v1h-2zM391 358h8v1h-8zM400 358h5v1h-5zM406 358h2v1h-2zM409 358h1v1h-1zM411 358h3v1h-3zM418 358h1v1h-1zM421 358h2v1h-2zM444 358h1v1h-1zM462 358h1v1h-1zM473 358h1v1h-1zM494 358h1v1h-1zM58 359h1v1h-1zM63 359h3v1h-3zM67 359h1v1h-1zM74 359h1v1h-1zM85 359h1v1h-1zM87 359h1v1h-1zM89 359h1v1h-1zM92 359h1v1h-1zM113 359h1v1h-1zM123 359h1v1h-1zM128 359h1v1h-1zM131 359h6v1h-6zM140 359h1v1h-1zM146 359h3v1h-3zM169 359h1v1h-1zM220 359h2v1h-2zM224 359h2v1h-2zM227 359h1v1h-1zM229 359h2v1h-2zM232 359h1v1h-1zM240 359h1v1h-1zM245 359h2v1h-2zM249 359h1v1h-1zM256 359h1v1h-1zM273 359h1v1h-1zM275 359h1v1h-1zM277 359h1v1h-1zM284 359h1v1h-1zM293 359h1v1h-1zM298 359h1v1h-1zM300 359h2v1h-2zM304 359h1v1h-1zM306 359h1v1h-1zM313 359h1v1h-1zM317 359h1v1h-1zM320 359h1v1h-1zM328 359h1v1h-1zM337 359h1v1h-1zM385 359h1v1h-1zM387 359h2v1h-2zM390 359h2v1h-2zM393 359h1v1h-1zM395 359h4v1h-4zM400 359h3v1h-3zM404 359h1v1h-1zM406 359h1v1h-1zM412 359h1v1h-1zM421 359h1v1h-1zM458 359h1v1h-1zM55 360h1v1h-1zM59 360h1v1h-1zM65 360h2v1h-2zM73 360h1v1h-1zM75 360h2v1h-2zM80 360h2v1h-2zM84 360h2v1h-2zM90 360h2v1h-2zM111 360h1v1h-1zM113 360h1v1h-1zM120 360h5v1h-5zM128 360h3v1h-3zM135 360h2v1h-2zM141 360h4v1h-4zM147 360h1v1h-1zM153 360h2v1h-2zM176 360h1v1h-1zM178 360h1v1h-1zM224 360h1v1h-1zM226 360h2v1h-2zM229 360h1v1h-1zM232 360h2v1h-2zM235 360h2v1h-2zM238 360h2v1h-2zM242 360h5v1h-5zM269 360h1v1h-1zM273 360h1v1h-1zM276 360h1v1h-1zM280 360h1v1h-1zM286 360h1v1h-1zM289 360h1v1h-1zM291 360h3v1h-3zM296 360h1v1h-1zM298 360h1v1h-1zM300 360h1v1h-1zM302 360h1v1h-1zM304 360h1v1h-1zM306 360h1v1h-1zM308 360h3v1h-3zM312 360h2v1h-2zM315 360h1v1h-1zM387 360h2v1h-2zM391 360h8v1h-8zM403 360h1v1h-1zM405 360h1v1h-1zM407 360h4v1h-4zM412 360h1v1h-1zM416 360h1v1h-1zM420 360h1v1h-1zM429 360h1v1h-1zM501 360h1v1h-1zM61 361h1v1h-1zM67 361h1v1h-1zM69 361h1v1h-1zM72 361h2v1h-2zM77 361h1v1h-1zM83 361h1v1h-1zM90 361h1v1h-1zM93 361h1v1h-1zM95 361h1v1h-1zM97 361h1v1h-1zM110 361h1v1h-1zM113 361h2v1h-2zM117 361h4v1h-4zM123 361h3v1h-3zM127 361h3v1h-3zM131 361h3v1h-3zM135 361h6v1h-6zM147 361h1v1h-1zM153 361h1v1h-1zM161 361h1v1h-1zM221 361h1v1h-1zM225 361h3v1h-3zM229 361h1v1h-1zM231 361h1v1h-1zM233 361h5v1h-5zM239 361h1v1h-1zM245 361h1v1h-1zM247 361h2v1h-2zM250 361h1v1h-1zM260 361h1v1h-1zM266 361h1v1h-1zM282 361h1v1h-1zM284 361h1v1h-1zM287 361h1v1h-1zM290 361h1v1h-1zM292 361h1v1h-1zM299 361h4v1h-4zM304 361h1v1h-1zM308 361h1v1h-1zM310 361h1v1h-1zM318 361h1v1h-1zM320 361h1v1h-1zM386 361h1v1h-1zM388 361h9v1h-9zM398 361h4v1h-4zM403 361h2v1h-2zM406 361h1v1h-1zM411 361h4v1h-4zM419 361h1v1h-1zM432 361h1v1h-1zM448 361h1v1h-1zM451 361h1v1h-1zM455 361h1v1h-1zM460 361h1v1h-1zM463 361h1v1h-1zM465 361h1v1h-1zM471 361h2v1h-2zM478 361h1v1h-1zM55 362h1v1h-1zM60 362h1v1h-1zM62 362h1v1h-1zM67 362h2v1h-2zM76 362h1v1h-1zM88 362h1v1h-1zM111 362h1v1h-1zM114 362h4v1h-4zM119 362h2v1h-2zM124 362h1v1h-1zM126 362h5v1h-5zM132 362h4v1h-4zM138 362h2v1h-2zM143 362h3v1h-3zM147 362h1v1h-1zM153 362h1v1h-1zM220 362h1v1h-1zM223 362h1v1h-1zM225 362h2v1h-2zM229 362h3v1h-3zM233 362h5v1h-5zM240 362h1v1h-1zM247 362h1v1h-1zM250 362h1v1h-1zM259 362h1v1h-1zM270 362h1v1h-1zM274 362h1v1h-1zM279 362h1v1h-1zM283 362h1v1h-1zM286 362h1v1h-1zM289 362h1v1h-1zM291 362h2v1h-2zM294 362h1v1h-1zM296 362h1v1h-1zM298 362h1v1h-1zM300 362h4v1h-4zM306 362h1v1h-1zM308 362h1v1h-1zM312 362h1v1h-1zM320 362h1v1h-1zM386 362h8v1h-8zM397 362h7v1h-7zM406 362h3v1h-3zM410 362h2v1h-2zM414 362h1v1h-1zM416 362h1v1h-1zM419 362h1v1h-1zM452 362h1v1h-1zM464 362h3v1h-3zM480 362h1v1h-1zM57 363h2v1h-2zM62 363h1v1h-1zM65 363h1v1h-1zM70 363h1v1h-1zM76 363h1v1h-1zM78 363h2v1h-2zM81 363h3v1h-3zM85 363h1v1h-1zM87 363h1v1h-1zM91 363h1v1h-1zM103 363h2v1h-2zM107 363h3v1h-3zM112 363h23v1h-23zM138 363h2v1h-2zM141 363h1v1h-1zM151 363h1v1h-1zM220 363h1v1h-1zM225 363h3v1h-3zM229 363h4v1h-4zM234 363h2v1h-2zM239 363h1v1h-1zM243 363h2v1h-2zM247 363h2v1h-2zM251 363h1v1h-1zM265 363h1v1h-1zM268 363h1v1h-1zM273 363h1v1h-1zM278 363h3v1h-3zM285 363h1v1h-1zM287 363h9v1h-9zM298 363h3v1h-3zM302 363h2v1h-2zM306 363h1v1h-1zM318 363h1v1h-1zM334 363h1v1h-1zM385 363h1v1h-1zM387 363h3v1h-3zM392 363h6v1h-6zM399 363h8v1h-8zM408 363h1v1h-1zM413 363h2v1h-2zM417 363h1v1h-1zM426 363h1v1h-1zM446 363h1v1h-1zM455 363h1v1h-1zM457 363h1v1h-1zM462 363h1v1h-1zM465 363h1v1h-1zM471 363h2v1h-2zM477 363h1v1h-1zM59 364h2v1h-2zM62 364h1v1h-1zM64 364h2v1h-2zM70 364h1v1h-1zM72 364h1v1h-1zM74 364h1v1h-1zM77 364h1v1h-1zM80 364h1v1h-1zM86 364h2v1h-2zM91 364h1v1h-1zM95 364h1v1h-1zM100 364h1v1h-1zM106 364h3v1h-3zM111 364h4v1h-4zM116 364h17v1h-17zM134 364h3v1h-3zM138 364h1v1h-1zM140 364h1v1h-1zM143 364h1v1h-1zM146 364h2v1h-2zM220 364h1v1h-1zM222 364h2v1h-2zM226 364h1v1h-1zM231 364h6v1h-6zM238 364h5v1h-5zM246 364h1v1h-1zM248 364h1v1h-1zM255 364h1v1h-1zM268 364h1v1h-1zM270 364h1v1h-1zM278 364h4v1h-4zM284 364h2v1h-2zM287 364h5v1h-5zM293 364h5v1h-5zM301 364h4v1h-4zM306 364h1v1h-1zM313 364h1v1h-1zM315 364h1v1h-1zM385 364h4v1h-4zM391 364h3v1h-3zM395 364h8v1h-8zM404 364h3v1h-3zM409 364h2v1h-2zM412 364h1v1h-1zM416 364h1v1h-1zM430 364h1v1h-1zM435 364h1v1h-1zM440 364h1v1h-1zM442 364h1v1h-1zM449 364h1v1h-1zM453 364h1v1h-1zM455 364h1v1h-1zM460 364h1v1h-1zM471 364h1v1h-1zM474 364h1v1h-1zM59 365h1v1h-1zM61 365h1v1h-1zM64 365h1v1h-1zM66 365h2v1h-2zM72 365h1v1h-1zM77 365h1v1h-1zM79 365h1v1h-1zM83 365h1v1h-1zM87 365h1v1h-1zM89 365h1v1h-1zM104 365h1v1h-1zM107 365h23v1h-23zM131 365h5v1h-5zM139 365h1v1h-1zM144 365h2v1h-2zM167 365h1v1h-1zM220 365h8v1h-8zM229 365h8v1h-8zM238 365h1v1h-1zM243 365h1v1h-1zM255 365h1v1h-1zM271 365h1v1h-1zM273 365h3v1h-3zM277 365h4v1h-4zM282 365h10v1h-10zM293 365h2v1h-2zM302 365h4v1h-4zM319 365h1v1h-1zM385 365h1v1h-1zM388 365h11v1h-11zM400 365h3v1h-3zM404 365h3v1h-3zM409 365h1v1h-1zM413 365h2v1h-2zM416 365h1v1h-1zM419 365h1v1h-1zM429 365h1v1h-1zM446 365h1v1h-1zM454 365h1v1h-1zM457 365h2v1h-2zM463 365h1v1h-1zM465 365h1v1h-1zM472 365h1v1h-1zM476 365h2v1h-2zM483 365h1v1h-1zM499 365h1v1h-1zM59 366h1v1h-1zM62 366h1v1h-1zM64 366h2v1h-2zM68 366h1v1h-1zM78 366h2v1h-2zM81 366h1v1h-1zM95 366h2v1h-2zM99 366h33v1h-33zM135 366h1v1h-1zM138 366h1v1h-1zM140 366h1v1h-1zM142 366h1v1h-1zM220 366h7v1h-7zM230 366h6v1h-6zM241 366h2v1h-2zM247 366h1v1h-1zM257 366h1v1h-1zM262 366h1v1h-1zM267 366h1v1h-1zM269 366h1v1h-1zM271 366h1v1h-1zM273 366h3v1h-3zM277 366h3v1h-3zM281 366h2v1h-2zM284 366h5v1h-5zM290 366h3v1h-3zM294 366h1v1h-1zM296 366h2v1h-2zM301 366h1v1h-1zM306 366h2v1h-2zM385 366h1v1h-1zM387 366h6v1h-6zM394 366h4v1h-4zM399 366h6v1h-6zM406 366h1v1h-1zM408 366h2v1h-2zM413 366h1v1h-1zM418 366h2v1h-2zM421 366h1v1h-1zM434 366h1v1h-1zM441 366h1v1h-1zM449 366h1v1h-1zM451 366h1v1h-1zM453 366h1v1h-1zM455 366h3v1h-3zM459 366h1v1h-1zM463 366h2v1h-2zM466 366h3v1h-3zM470 366h1v1h-1zM474 366h1v1h-1zM477 366h1v1h-1zM59 367h1v1h-1zM74 367h1v1h-1zM82 367h1v1h-1zM84 367h2v1h-2zM88 367h2v1h-2zM93 367h1v1h-1zM98 367h1v1h-1zM100 367h18v1h-18zM119 367h10v1h-10zM130 367h2v1h-2zM133 367h1v1h-1zM135 367h2v1h-2zM220 367h9v1h-9zM230 367h2v1h-2zM233 367h5v1h-5zM241 367h1v1h-1zM244 367h1v1h-1zM246 367h1v1h-1zM248 367h2v1h-2zM262 367h2v1h-2zM266 367h2v1h-2zM269 367h6v1h-6zM276 367h2v1h-2zM279 367h15v1h-15zM297 367h1v1h-1zM300 367h2v1h-2zM386 367h16v1h-16zM403 367h5v1h-5zM410 367h2v1h-2zM416 367h1v1h-1zM439 367h1v1h-1zM443 367h1v1h-1zM448 367h6v1h-6zM456 367h9v1h-9zM466 367h3v1h-3zM470 367h1v1h-1zM474 367h1v1h-1zM481 367h1v1h-1zM67 368h1v1h-1zM70 368h1v1h-1zM79 368h2v1h-2zM86 368h2v1h-2zM90 368h1v1h-1zM92 368h2v1h-2zM95 368h2v1h-2zM99 368h27v1h-27zM130 368h1v1h-1zM134 368h1v1h-1zM220 368h8v1h-8zM229 368h4v1h-4zM234 368h6v1h-6zM241 368h1v1h-1zM243 368h1v1h-1zM246 368h1v1h-1zM258 368h1v1h-1zM260 368h2v1h-2zM263 368h2v1h-2zM266 368h3v1h-3zM271 368h12v1h-12zM284 368h3v1h-3zM288 368h4v1h-4zM293 368h3v1h-3zM297 368h1v1h-1zM327 368h1v1h-1zM386 368h1v1h-1zM388 368h3v1h-3zM394 368h8v1h-8zM403 368h7v1h-7zM411 368h1v1h-1zM413 368h1v1h-1zM417 368h1v1h-1zM430 368h1v1h-1zM437 368h1v1h-1zM439 368h1v1h-1zM441 368h4v1h-4zM447 368h4v1h-4zM452 368h1v1h-1zM454 368h4v1h-4zM460 368h2v1h-2zM465 368h2v1h-2zM470 368h2v1h-2zM61 369h1v1h-1zM63 369h1v1h-1zM66 369h1v1h-1zM69 369h1v1h-1zM72 369h2v1h-2zM77 369h1v1h-1zM88 369h5v1h-5zM94 369h34v1h-34zM220 369h7v1h-7zM228 369h10v1h-10zM239 369h1v1h-1zM242 369h1v1h-1zM245 369h1v1h-1zM247 369h1v1h-1zM250 369h1v1h-1zM256 369h2v1h-2zM263 369h1v1h-1zM265 369h5v1h-5zM271 369h1v1h-1zM274 369h21v1h-21zM296 369h4v1h-4zM306 369h1v1h-1zM310 369h1v1h-1zM315 369h1v1h-1zM385 369h1v1h-1zM388 369h5v1h-5zM394 369h12v1h-12zM407 369h4v1h-4zM413 369h1v1h-1zM415 369h1v1h-1zM424 369h1v1h-1zM432 369h2v1h-2zM435 369h1v1h-1zM438 369h22v1h-22zM461 369h3v1h-3zM467 369h2v1h-2zM472 369h1v1h-1zM478 369h1v1h-1zM67 370h2v1h-2zM81 370h1v1h-1zM89 370h5v1h-5zM95 370h2v1h-2zM98 370h10v1h-10zM109 370h11v1h-11zM121 370h2v1h-2zM124 370h3v1h-3zM161 370h1v1h-1zM165 370h1v1h-1zM168 370h1v1h-1zM222 370h1v1h-1zM224 370h1v1h-1zM226 370h1v1h-1zM228 370h1v1h-1zM230 370h2v1h-2zM234 370h6v1h-6zM243 370h4v1h-4zM249 370h1v1h-1zM251 370h2v1h-2zM254 370h1v1h-1zM256 370h4v1h-4zM261 370h1v1h-1zM263 370h11v1h-11zM275 370h14v1h-14zM290 370h3v1h-3zM294 370h2v1h-2zM386 370h1v1h-1zM388 370h3v1h-3zM393 370h8v1h-8zM402 370h5v1h-5zM408 370h1v1h-1zM410 370h3v1h-3zM426 370h1v1h-1zM430 370h1v1h-1zM433 370h2v1h-2zM436 370h3v1h-3zM440 370h2v1h-2zM443 370h24v1h-24zM468 370h1v1h-1zM61 371h1v1h-1zM67 371h1v1h-1zM69 371h2v1h-2zM73 371h1v1h-1zM79 371h2v1h-2zM82 371h1v1h-1zM84 371h1v1h-1zM86 371h1v1h-1zM89 371h1v1h-1zM91 371h3v1h-3zM95 371h2v1h-2zM98 371h19v1h-19zM118 371h6v1h-6zM126 371h1v1h-1zM131 371h1v1h-1zM152 371h1v1h-1zM220 371h4v1h-4zM225 371h16v1h-16zM242 371h2v1h-2zM248 371h1v1h-1zM252 371h2v1h-2zM257 371h2v1h-2zM260 371h6v1h-6zM267 371h16v1h-16zM284 371h3v1h-3zM289 371h1v1h-1zM291 371h3v1h-3zM295 371h1v1h-1zM331 371h1v1h-1zM386 371h1v1h-1zM391 371h7v1h-7zM399 371h8v1h-8zM409 371h2v1h-2zM429 371h3v1h-3zM433 371h4v1h-4zM438 371h15v1h-15zM454 371h2v1h-2zM457 371h2v1h-2zM461 371h1v1h-1zM470 371h1v1h-1zM473 371h1v1h-1zM480 371h1v1h-1zM70 372h1v1h-1zM72 372h1v1h-1zM82 372h2v1h-2zM87 372h12v1h-12zM100 372h16v1h-16zM117 372h1v1h-1zM120 372h1v1h-1zM122 372h1v1h-1zM221 372h23v1h-23zM249 372h1v1h-1zM251 372h1v1h-1zM254 372h1v1h-1zM257 372h7v1h-7zM265 372h24v1h-24zM292 372h2v1h-2zM295 372h1v1h-1zM297 372h1v1h-1zM386 372h5v1h-5zM392 372h1v1h-1zM394 372h8v1h-8zM405 372h4v1h-4zM410 372h2v1h-2zM418 372h1v1h-1zM420 372h2v1h-2zM425 372h37v1h-37zM463 372h1v1h-1zM466 372h4v1h-4zM58 373h1v1h-1zM65 373h2v1h-2zM70 373h1v1h-1zM77 373h1v1h-1zM80 373h2v1h-2zM86 373h13v1h-13zM100 373h14v1h-14zM115 373h2v1h-2zM124 373h1v1h-1zM133 373h1v1h-1zM220 373h2v1h-2zM224 373h8v1h-8zM233 373h3v1h-3zM237 373h2v1h-2zM241 373h3v1h-3zM247 373h1v1h-1zM250 373h1v1h-1zM256 373h5v1h-5zM262 373h23v1h-23zM286 373h1v1h-1zM288 373h3v1h-3zM386 373h3v1h-3zM390 373h16v1h-16zM407 373h2v1h-2zM410 373h1v1h-1zM415 373h1v1h-1zM419 373h2v1h-2zM422 373h3v1h-3zM426 373h17v1h-17zM444 373h5v1h-5zM450 373h3v1h-3zM456 373h3v1h-3zM460 373h2v1h-2zM463 373h1v1h-1zM57 374h1v1h-1zM69 374h1v1h-1zM71 374h1v1h-1zM73 374h1v1h-1zM77 374h2v1h-2zM80 374h3v1h-3zM84 374h1v1h-1zM87 374h16v1h-16zM104 374h4v1h-4zM112 374h1v1h-1zM115 374h2v1h-2zM120 374h1v1h-1zM138 374h1v1h-1zM220 374h5v1h-5zM226 374h7v1h-7zM234 374h6v1h-6zM243 374h1v1h-1zM246 374h1v1h-1zM252 374h1v1h-1zM255 374h11v1h-11zM267 374h13v1h-13zM281 374h5v1h-5zM287 374h5v1h-5zM296 374h1v1h-1zM386 374h7v1h-7zM394 374h4v1h-4zM399 374h5v1h-5zM405 374h2v1h-2zM408 374h1v1h-1zM410 374h2v1h-2zM413 374h1v1h-1zM415 374h1v1h-1zM417 374h3v1h-3zM422 374h5v1h-5zM428 374h30v1h-30zM459 374h4v1h-4zM68 375h1v1h-1zM72 375h1v1h-1zM74 375h3v1h-3zM80 375h1v1h-1zM82 375h3v1h-3zM87 375h3v1h-3zM91 375h1v1h-1zM94 375h11v1h-11zM106 375h2v1h-2zM113 375h1v1h-1zM115 375h3v1h-3zM119 375h1v1h-1zM220 375h3v1h-3zM224 375h9v1h-9zM234 375h5v1h-5zM240 375h3v1h-3zM244 375h2v1h-2zM249 375h1v1h-1zM251 375h1v1h-1zM253 375h2v1h-2zM256 375h6v1h-6zM263 375h12v1h-12zM276 375h4v1h-4zM281 375h3v1h-3zM285 375h1v1h-1zM287 375h1v1h-1zM386 375h2v1h-2zM389 375h5v1h-5zM395 375h12v1h-12zM408 375h3v1h-3zM418 375h1v1h-1zM420 375h2v1h-2zM423 375h26v1h-26zM450 375h1v1h-1zM452 375h1v1h-1zM458 375h1v1h-1zM468 375h2v1h-2zM59 376h1v1h-1zM61 376h1v1h-1zM65 376h1v1h-1zM67 376h1v1h-1zM70 376h1v1h-1zM74 376h2v1h-2zM77 376h1v1h-1zM82 376h1v1h-1zM84 376h2v1h-2zM87 376h3v1h-3zM91 376h4v1h-4zM97 376h1v1h-1zM99 376h1v1h-1zM101 376h1v1h-1zM107 376h1v1h-1zM109 376h1v1h-1zM220 376h2v1h-2zM223 376h12v1h-12zM236 376h9v1h-9zM247 376h1v1h-1zM249 376h2v1h-2zM254 376h8v1h-8zM263 376h6v1h-6zM270 376h5v1h-5zM276 376h3v1h-3zM281 376h3v1h-3zM288 376h1v1h-1zM291 376h1v1h-1zM389 376h5v1h-5zM395 376h1v1h-1zM400 376h3v1h-3zM405 376h2v1h-2zM412 376h3v1h-3zM418 376h15v1h-15zM434 376h11v1h-11zM446 376h4v1h-4zM454 376h2v1h-2zM458 376h1v1h-1zM61 377h1v1h-1zM63 377h1v1h-1zM65 377h1v1h-1zM67 377h2v1h-2zM71 377h1v1h-1zM73 377h1v1h-1zM75 377h13v1h-13zM90 377h4v1h-4zM95 377h2v1h-2zM98 377h2v1h-2zM101 377h5v1h-5zM120 377h2v1h-2zM220 377h2v1h-2zM223 377h12v1h-12zM236 377h4v1h-4zM242 377h2v1h-2zM246 377h33v1h-33zM280 377h3v1h-3zM286 377h1v1h-1zM386 377h2v1h-2zM391 377h5v1h-5zM397 377h1v1h-1zM399 377h3v1h-3zM403 377h14v1h-14zM419 377h19v1h-19zM439 377h3v1h-3zM443 377h8v1h-8zM455 377h2v1h-2zM58 378h1v1h-1zM69 378h1v1h-1zM71 378h1v1h-1zM74 378h1v1h-1zM77 378h1v1h-1zM79 378h1v1h-1zM81 378h3v1h-3zM85 378h2v1h-2zM88 378h3v1h-3zM92 378h8v1h-8zM109 378h1v1h-1zM119 378h1v1h-1zM220 378h8v1h-8zM229 378h10v1h-10zM241 378h6v1h-6zM248 378h3v1h-3zM253 378h19v1h-19zM273 378h4v1h-4zM278 378h4v1h-4zM284 378h2v1h-2zM287 378h1v1h-1zM323 378h1v1h-1zM385 378h1v1h-1zM390 378h4v1h-4zM398 378h7v1h-7zM406 378h3v1h-3zM412 378h1v1h-1zM415 378h31v1h-31zM447 378h1v1h-1zM461 378h1v1h-1zM59 379h1v1h-1zM69 379h1v1h-1zM72 379h1v1h-1zM74 379h2v1h-2zM78 379h1v1h-1zM81 379h2v1h-2zM85 379h1v1h-1zM89 379h1v1h-1zM95 379h2v1h-2zM118 379h1v1h-1zM133 379h1v1h-1zM175 379h1v1h-1zM220 379h6v1h-6zM227 379h4v1h-4zM232 379h14v1h-14zM247 379h1v1h-1zM249 379h1v1h-1zM251 379h19v1h-19zM271 379h7v1h-7zM280 379h2v1h-2zM286 379h2v1h-2zM292 379h1v1h-1zM336 379h1v1h-1zM388 379h4v1h-4zM393 379h3v1h-3zM397 379h20v1h-20zM418 379h10v1h-10zM429 379h4v1h-4zM434 379h3v1h-3zM439 379h2v1h-2zM442 379h3v1h-3zM446 379h2v1h-2zM477 379h1v1h-1zM64 380h1v1h-1zM66 380h1v1h-1zM75 380h2v1h-2zM79 380h1v1h-1zM81 380h1v1h-1zM84 380h1v1h-1zM88 380h2v1h-2zM91 380h1v1h-1zM221 380h2v1h-2zM224 380h3v1h-3zM228 380h5v1h-5zM234 380h4v1h-4zM240 380h5v1h-5zM246 380h2v1h-2zM249 380h1v1h-1zM251 380h15v1h-15zM267 380h3v1h-3zM271 380h1v1h-1zM274 380h3v1h-3zM280 380h1v1h-1zM387 380h1v1h-1zM389 380h1v1h-1zM393 380h4v1h-4zM398 380h4v1h-4zM403 380h4v1h-4zM408 380h6v1h-6zM415 380h24v1h-24zM441 380h1v1h-1zM443 380h1v1h-1zM446 380h1v1h-1zM451 380h1v1h-1zM72 381h1v1h-1zM75 381h3v1h-3zM79 381h2v1h-2zM83 381h1v1h-1zM85 381h1v1h-1zM90 381h1v1h-1zM92 381h1v1h-1zM94 381h3v1h-3zM101 381h1v1h-1zM177 381h1v1h-1zM220 381h8v1h-8zM229 381h2v1h-2zM232 381h3v1h-3zM238 381h1v1h-1zM240 381h1v1h-1zM243 381h4v1h-4zM248 381h8v1h-8zM257 381h10v1h-10zM268 381h8v1h-8zM277 381h1v1h-1zM283 381h2v1h-2zM387 381h1v1h-1zM389 381h12v1h-12zM402 381h2v1h-2zM405 381h7v1h-7zM413 381h23v1h-23zM438 381h1v1h-1zM440 381h1v1h-1zM442 381h1v1h-1zM448 381h1v1h-1zM62 382h1v1h-1zM66 382h1v1h-1zM71 382h1v1h-1zM78 382h1v1h-1zM80 382h1v1h-1zM221 382h1v1h-1zM223 382h2v1h-2zM226 382h10v1h-10zM237 382h3v1h-3zM241 382h2v1h-2zM244 382h1v1h-1zM246 382h14v1h-14zM262 382h7v1h-7zM271 382h1v1h-1zM273 382h1v1h-1zM278 382h1v1h-1zM281 382h1v1h-1zM386 382h5v1h-5zM394 382h5v1h-5zM400 382h3v1h-3zM404 382h6v1h-6zM411 382h17v1h-17zM429 382h6v1h-6zM437 382h1v1h-1zM439 382h3v1h-3zM443 382h2v1h-2zM456 382h1v1h-1zM220 383h1v1h-1zM223 383h3v1h-3zM228 383h1v1h-1zM230 383h2v1h-2zM234 383h1v1h-1zM236 383h6v1h-6zM244 383h1v1h-1zM246 383h13v1h-13zM262 383h6v1h-6zM280 383h1v1h-1zM283 383h1v1h-1zM387 383h3v1h-3zM392 383h12v1h-12zM405 383h10v1h-10zM416 383h3v1h-3zM420 383h3v1h-3zM425 383h4v1h-4zM431 383h4v1h-4zM438 383h2v1h-2zM223 384h11v1h-11zM235 384h3v1h-3zM241 384h15v1h-15zM257 384h2v1h-2zM260 384h3v1h-3zM267 384h1v1h-1zM386 384h1v1h-1zM388 384h1v1h-1zM393 384h3v1h-3zM399 384h3v1h-3zM403 384h9v1h-9zM413 384h3v1h-3zM417 384h4v1h-4zM422 384h2v1h-2zM426 384h1v1h-1zM429 384h1v1h-1zM431 384h1v1h-1zM455 384h1v1h-1zM221 385h1v1h-1zM223 385h1v1h-1zM228 385h1v1h-1zM230 385h3v1h-3zM235 385h3v1h-3zM239 385h8v1h-8zM249 385h1v1h-1zM251 385h7v1h-7zM259 385h2v1h-2zM263 385h3v1h-3zM267 385h1v1h-1zM269 385h1v1h-1zM387 385h2v1h-2zM390 385h1v1h-1zM393 385h3v1h-3zM397 385h7v1h-7zM405 385h1v1h-1zM408 385h1v1h-1zM410 385h4v1h-4zM420 385h1v1h-1zM422 385h1v1h-1zM424 385h2v1h-2zM427 385h1v1h-1zM431 385h1v1h-1zM434 385h1v1h-1zM220 386h5v1h-5zM226 386h2v1h-2zM229 386h1v1h-1zM231 386h1v1h-1zM235 386h6v1h-6zM242 386h3v1h-3zM246 386h3v1h-3zM251 386h4v1h-4zM256 386h1v1h-1zM264 386h1v1h-1zM267 386h1v1h-1zM222 387h2v1h-2zM225 387h11v1h-11zM237 387h4v1h-4zM242 387h1v1h-1zM245 387h2v1h-2zM249 387h2v1h-2zM257 387h1v1h-1zM259 387h1v1h-1zM262 387h2v1h-2zM268 387h1v1h-1z" fill="#000"/>
<path d="M49.40 26.30H181.20V113.80H49.40ZM212.00 29.20H344.30V114.70H212.00ZM378.30 29.10H512.30V114.50H378.30ZM49.10 156.50H183.20V245.20H49.10ZM211.90 158.10H346.60V248.10H211.90ZM377.10 159.50H513.10V248.40H377.10ZM48.00 290.80H184.20V386.40H48.00ZM213.10 290.60H345.40V390.80H213.10ZM378.10 291.00H512.30V389.50H378.10Z" fill="none" stroke="#000" stroke-width="1.6"/>
<path d="M50.20 113.80v3.5M55.30 113.80v2.2M60.41 113.80v2.2M65.51 113.80v2.2M70.62 113.80v2.2M75.72 113.80v3.5M80.82 113.80v2.2M85.93 113.80v2.2M91.03 113.80v2.2M96.14 113.80v2.2M101.24 113.80v3.5M106.34 113.80v2.2M111.45 113.80v2.2M116.55 113.80v2.2M121.66 113.80v2.2M126.76 113.80v3.5M131.86 113.80v2.2M136.97 113.80v2.2M142.07 113.80v2.2M147.18 113.80v2.2M152.28 113.80v3.5M157.38 113.80v2.2M162.49 113.80v2.2M167.59 113.80v2.2M172.70 113.80v2.2M177.80 113.80v3.5M49.40 113.50h-3.7M49.40 110.12h-2.4M49.40 106.75h-2.4M49.40 103.37h-2.4M49.40 100.00h-2.4M49.40 96.62h-3.7M49.40 93.24h-2.4M49.40 89.87h-2.4M49.40 86.49h-2.4M49.40 83.12h-2.4M49.40 79.74h-3.7M49.40 76.36h-2.4M49.40 72.99h-2.4M49.40 69.61h-2.4M49.40 66.24h-2.4M49.40 62.86h-3.7M49.40 59.48h-2.4M49.40 56.11h-2.4M49.40 52.73h-2.4M49.40 49.36h-2.4M49.40 45.98h-3.7M49.40 42.60h-2.4M49.40 39.23h-2.4M49.40 35.85h-2.4M49.40 32.48h-2.4M49.40 29.10h-3.7M212.80 114.70v3.5M217.92 114.70v2.2M223.05 114.70v2.2M228.17 114.70v2.2M233.30 114.70v2.2M238.42 114.70v3.5M243.54 114.70v2.2M248.67 114.70v2.2M253.79 114.70v2.2M258.92 114.70v2.2M264.04 114.70v3.5M269.16 114.70v2.2M274.29 114.70v2.2M279.41 114.70v2.2M284.54 114.70v2.2M289.66 114.70v3.5M294.78 114.70v2.2M299.91 114.70v2.2M305.03 114.70v2.2M310.16 114.70v2.2M315.28 114.70v3.5M320.40 114.70v2.2M325.53 114.70v2.2M330.65 114.70v2.2M335.78 114.70v2.2M340.90 114.70v3.5M212.00 114.40h-3.7M212.00 111.10h-2.4M212.00 107.81h-2.4M212.00 104.51h-2.4M212.00 101.22h-2.4M212.00 97.92h-3.7M212.00 94.62h-2.4M212.00 91.33h-2.4M212.00 88.03h-2.4M212.00 84.74h-2.4M212.00 81.44h-3.7M212.00 78.14h-2.4M212.00 74.85h-2.4M212.00 71.55h-2.4M212.00 68.26h-2.4M212.00 64.96h-3.7M212.00 61.66h-2.4M212.00 58.37h-2.4M212.00 55.07h-2.4M212.00 51.78h-2.4M212.00 48.48h-3.7M212.00 45.18h-2.4M212.00 41.89h-2.4M212.00 38.59h-2.4M212.00 35.30h-2.4M212.00 32.00h-3.7M379.10 114.50v3.5M384.29 114.50v2.2M389.48 114.50v2.2M394.68 114.50v2.2M399.87 114.50v2.2M405.06 114.50v3.5M410.25 114.50v2.2M415.44 114.50v2.2M420.64 114.50v2.2M425.83 114.50v2.2M431.02 114.50v3.5M436.21 114.50v2.2M441.40 114.50v2.2M446.60 114.50v2.2M451.79 114.50v2.2M456.98 114.50v3.5M462.17 114.50v2.2M467.36 114.50v2.2M472.56 114.50v2.2M477.75 114.50v2.2M482.94 114.50v3.5M488.13 114.50v2.2M493.32 114.50v2.2M498.52 114.50v2.2M503.71 114.50v2.2M508.90 114.50v3.5M378.30 114.20h-3.7M378.30 110.91h-2.4M378.30 107.62h-2.4M378.30 104.32h-2.4M378.30 101.03h-2.4M378.30 97.74h-3.7M378.30 94.45h-2.4M378.30 91.16h-2.4M378.30 87.86h-2.4M378.30 84.57h-2.4M378.30 81.28h-3.7M378.30 77.99h-2.4M378.30 74.70h-2.4M378.30 71.40h-2.4M378.30 68.11h-2.4M378.30 64.82h-3.7M378.30 61.53h-2.4M378.30 58.24h-2.4M378.30 54.94h-2.4M378.30 51.65h-2.4M378.30 48.36h-3.7M378.30 45.07h-2.4M378.30 41.78h-2.4M378.30 38.48h-2.4M378.30 35.19h-2.4M378.30 31.90h-3.7M49.90 245.20v3.5M55.10 245.20v2.2M60.29 245.20v2.2M65.49 245.20v2.2M70.68 245.20v2.2M75.88 245.20v3.5M81.08 245.20v2.2M86.27 245.20v2.2M91.47 245.20v2.2M96.66 245.20v2.2M101.86 245.20v3.5M107.06 245.20v2.2M112.25 245.20v2.2M117.45 245.20v2.2M122.64 245.20v2.2M127.84 245.20v3.5M133.04 245.20v2.2M138.23 245.20v2.2M143.43 245.20v2.2M148.62 245.20v2.2M153.82 245.20v3.5M159.02 245.20v2.2M164.21 245.20v2.2M169.41 245.20v2.2M174.60 245.20v2.2M179.80 245.20v3.5M49.10 244.90h-3.7M49.10 241.48h-2.4M49.10 238.05h-2.4M49.10 234.63h-2.4M49.10 231.20h-2.4M49.10 227.78h-3.7M49.10 224.36h-2.4M49.10 220.93h-2.4M49.10 217.51h-2.4M49.10 214.08h-2.4M49.10 210.66h-3.7M49.10 207.24h-2.4M49.10 203.81h-2.4M49.10 200.39h-2.4M49.10 196.96h-2.4M49.10 193.54h-3.7M49.10 190.12h-2.4M49.10 186.69h-2.4M49.10 183.27h-2.4M49.10 179.84h-2.4M49.10 176.42h-3.7M49.10 173.00h-2.4M49.10 169.57h-2.4M49.10 166.15h-2.4M49.10 162.72h-2.4M49.10 159.30h-3.7M212.70 248.10v3.5M217.92 248.10v2.2M223.14 248.10v2.2M228.36 248.10v2.2M233.58 248.10v2.2M238.80 248.10v3.5M244.02 248.10v2.2M249.24 248.10v2.2M254.46 248.10v2.2M259.68 248.10v2.2M264.90 248.10v3.5M270.12 248.10v2.2M275.34 248.10v2.2M280.56 248.10v2.2M285.78 248.10v2.2M291.00 248.10v3.5M296.22 248.10v2.2M301.44 248.10v2.2M306.66 248.10v2.2M311.88 248.10v2.2M317.10 248.10v3.5M322.32 248.10v2.2M327.54 248.10v2.2M332.76 248.10v2.2M337.98 248.10v2.2M343.20 248.10v3.5M211.90 247.80h-3.7M211.90 244.32h-2.4M211.90 240.85h-2.4M211.90 237.37h-2.4M211.90 233.90h-2.4M211.90 230.42h-3.7M211.90 226.94h-2.4M211.90 223.47h-2.4M211.90 219.99h-2.4M211.90 216.52h-2.4M211.90 213.04h-3.7M211.90 209.56h-2.4M211.90 206.09h-2.4M211.90 202.61h-2.4M211.90 199.14h-2.4M211.90 195.66h-3.7M211.90 192.18h-2.4M211.90 188.71h-2.4M211.90 185.23h-2.4M211.90 181.76h-2.4M211.90 178.28h-3.7M211.90 174.80h-2.4M211.90 171.33h-2.4M211.90 167.85h-2.4M211.90 164.38h-2.4M211.90 160.90h-3.7M377.90 248.40v3.5M383.17 248.40v2.2M388.44 248.40v2.2M393.72 248.40v2.2M398.99 248.40v2.2M404.26 248.40v3.5M409.53 248.40v2.2M414.80 248.40v2.2M420.08 248.40v2.2M425.35 248.40v2.2M430.62 248.40v3.5M435.89 248.40v2.2M441.16 248.40v2.2M446.44 248.40v2.2M451.71 248.40v2.2M456.98 248.40v3.5M462.25 248.40v2.2M467.52 248.40v2.2M472.80 248.40v2.2M478.07 248.40v2.2M483.34 248.40v3.5M488.61 248.40v2.2M493.88 248.40v2.2M499.16 248.40v2.2M504.43 248.40v2.2M509.70 248.40v3.5M377.10 248.10h-3.7M377.10 244.67h-2.4M377.10 241.24h-2.4M377.10 237.80h-2.4M377.10 234.37h-2.4M377.10 230.94h-3.7M377.10 227.51h-2.4M377.10 224.08h-2.4M377.10 220.64h-2.4M377.10 217.21h-2.4M377.10 213.78h-3.7M377.10 210.35h-2.4M377.10 206.92h-2.4M377.10 203.48h-2.4M377.10 200.05h-2.4M377.10 196.62h-3.7M377.10 193.19h-2.4M377.10 189.76h-2.4M377.10 186.32h-2.4M377.10 182.89h-2.4M377.10 179.46h-3.7M377.10 176.03h-2.4M377.10 172.60h-2.4M377.10 169.16h-2.4M377.10 165.73h-2.4M377.10 162.30h-3.7M48.80 386.40v3.5M54.08 386.40v2.2M59.36 386.40v2.2M64.64 386.40v2.2M69.92 386.40v2.2M75.20 386.40v3.5M80.48 386.40v2.2M85.76 386.40v2.2M91.04 386.40v2.2M96.32 386.40v2.2M101.60 386.40v3.5M106.88 386.40v2.2M112.16 386.40v2.2M117.44 386.40v2.2M122.72 386.40v2.2M128.00 386.40v3.5M133.28 386.40v2.2M138.56 386.40v2.2M143.84 386.40v2.2M149.12 386.40v2.2M154.40 386.40v3.5M159.68 386.40v2.2M164.96 386.40v2.2M170.24 386.40v2.2M175.52 386.40v2.2M180.80 386.40v3.5M48.00 386.10h-3.7M48.00 382.40h-2.4M48.00 378.70h-2.4M48.00 375.00h-2.4M48.00 371.30h-2.4M48.00 367.60h-3.7M48.00 363.90h-2.4M48.00 360.20h-2.4M48.00 356.50h-2.4M48.00 352.80h-2.4M48.00 349.10h-3.7M48.00 345.40h-2.4M48.00 341.70h-2.4M48.00 338.00h-2.4M48.00 334.30h-2.4M48.00 330.60h-3.7M48.00 326.90h-2.4M48.00 323.20h-2.4M48.00 319.50h-2.4M48.00 315.80h-2.4M48.00 312.10h-3.7M48.00 308.40h-2.4M48.00 304.70h-2.4M48.00 301.00h-2.4M48.00 297.30h-2.4M48.00 293.60h-3.7M213.90 390.80v3.5M219.02 390.80v2.2M224.15 390.80v2.2M229.27 390.80v2.2M234.40 390.80v2.2M239.52 390.80v3.5M244.64 390.80v2.2M249.77 390.80v2.2M254.89 390.80v2.2M260.02 390.80v2.2M265.14 390.80v3.5M270.26 390.80v2.2M275.39 390.80v2.2M280.51 390.80v2.2M285.64 390.80v2.2M290.76 390.80v3.5M295.88 390.80v2.2M301.01 390.80v2.2M306.13 390.80v2.2M311.26 390.80v2.2M316.38 390.80v3.5M321.50 390.80v2.2M326.63 390.80v2.2M331.75 390.80v2.2M336.88 390.80v2.2M342.00 390.80v3.5M213.10 390.50h-3.7M213.10 386.62h-2.4M213.10 382.73h-2.4M213.10 378.85h-2.4M213.10 374.96h-2.4M213.10 371.08h-3.7M213.10 367.20h-2.4M213.10 363.31h-2.4M213.10 359.43h-2.4M213.10 355.54h-2.4M213.10 351.66h-3.7M213.10 347.78h-2.4M213.10 343.89h-2.4M213.10 340.01h-2.4M213.10 336.12h-2.4M213.10 332.24h-3.7M213.10 328.36h-2.4M213.10 324.47h-2.4M213.10 320.59h-2.4M213.10 316.70h-2.4M213.10 312.82h-3.7M213.10 308.94h-2.4M213.10 305.05h-2.4M213.10 301.17h-2.4M213.10 297.28h-2.4M213.10 293.40h-3.7M378.90 389.50v3.5M384.10 389.50v2.2M389.30 389.50v2.2M394.50 389.50v2.2M399.70 389.50v2.2M404.90 389.50v3.5M410.10 389.50v2.2M415.30 389.50v2.2M420.50 389.50v2.2M425.70 389.50v2.2M430.90 389.50v3.5M436.10 389.50v2.2M441.30 389.50v2.2M446.50 389.50v2.2M451.70 389.50v2.2M456.90 389.50v3.5M462.10 389.50v2.2M467.30 389.50v2.2M472.50 389.50v2.2M477.70 389.50v2.2M482.90 389.50v3.5M488.10 389.50v2.2M493.30 389.50v2.2M498.50 389.50v2.2M503.70 389.50v2.2M508.90 389.50v3.5M378.10 389.20h-3.7M378.10 385.38h-2.4M378.10 381.57h-2.4M378.10 377.75h-2.4M378.10 373.94h-2.4M378.10 370.12h-3.7M378.10 366.30h-2.4M378.10 362.49h-2.4M378.10 358.67h-2.4M378.10 354.86h-2.4M378.10 351.04h-3.7M378.10 347.22h-2.4M378.10 343.41h-2.4M378.10 339.59h-2.4M378.10 335.78h-2.4M378.10 331.96h-3.7M378.10 328.14h-2.4M378.10 324.33h-2.4M378.10 320.51h-2.4M378.10 316.70h-2.4M378.10 312.88h-3.7M378.10 309.06h-2.4M378.10 305.25h-2.4M378.10 301.43h-2.4M378.10 297.62h-2.4M378.10 293.80h-3.7" fill="none" stroke="#000" stroke-width="1.3"/>
<path d="M97.99 40.80L120.51 62.00L74.60 110.00M74.60 110.00L90.21 93.70L146.25 56.10M260.78 43.37L283.38 64.08L237.30 110.99M237.30 110.99L252.96 95.06L309.21 58.32M427.71 43.25L450.59 63.94L403.92 110.79M403.92 110.79L419.79 94.88L476.76 58.19M98.54 171.20L121.45 192.69L74.74 241.35M74.74 241.35L90.62 224.83L147.64 186.71M261.56 173.01L284.57 194.82L237.65 244.19M237.65 244.19L253.60 227.43L310.88 188.75M427.24 174.23L450.47 195.77L403.10 244.54M403.10 244.54L419.21 227.98L477.03 189.78M98.22 306.64L121.48 329.80L74.04 382.25M74.04 382.25L90.17 364.44L148.08 323.36M261.88 307.20L284.48 331.48L238.40 386.45M238.40 386.45L254.06 367.78L310.31 324.73M427.58 307.32L450.50 331.19L403.76 385.23M403.76 385.23L419.65 366.87L476.71 324.55" fill="none" stroke="#fff" stroke-width="3.5" stroke-linejoin="miter"/>
<path d="M56.90 109.40L58.49 82.20L70.80 62.30L97.99 40.80L120.51 62.00L74.60 110.00ZM74.60 110.00L90.21 93.70L146.25 56.10L180.59 40.50L181.20 84.40L166.20 101.90L111.40 110.90ZM219.53 110.40L221.13 83.83L233.49 64.37L260.78 43.37L283.38 64.08L237.30 110.99ZM237.30 110.99L252.96 95.06L309.21 58.32L343.69 43.08L344.30 85.97L329.24 103.07L274.23 111.87ZM385.92 110.20L387.55 83.66L400.06 64.23L427.71 43.25L450.59 63.94L403.92 110.79ZM403.92 110.79L419.79 94.88L476.76 58.19L511.68 42.96L512.30 85.81L497.05 102.89L441.33 111.67ZM56.73 240.74L58.35 213.17L70.88 192.99L98.54 171.20L121.45 192.69L74.74 241.35ZM74.74 241.35L90.62 224.83L147.64 186.71L182.58 170.90L183.20 215.40L167.94 233.14L112.18 242.26ZM219.56 243.57L221.19 215.60L233.78 195.13L261.56 173.01L284.57 194.82L237.65 244.19ZM237.65 244.19L253.60 227.43L310.88 188.75L345.98 172.71L346.60 217.86L331.27 235.86L275.26 245.12ZM384.84 243.93L386.48 216.30L399.19 196.07L427.24 174.23L450.47 195.77L403.10 244.54ZM403.10 244.54L419.21 227.98L477.03 189.78L512.47 173.93L513.10 218.53L497.62 236.31L441.07 245.46ZM55.75 381.59L57.40 351.88L70.12 330.13L98.22 306.64L121.48 329.80L74.04 382.25ZM74.04 382.25L90.17 364.44L148.08 323.36L183.57 306.32L184.20 354.28L168.70 373.40L112.07 383.24ZM220.63 385.76L222.23 354.62L234.59 331.82L261.88 307.20L284.48 331.48L238.40 386.45ZM238.40 386.45L254.06 367.78L310.31 324.73L344.79 306.86L345.40 357.13L330.34 377.17L275.33 387.48ZM385.74 384.55L387.36 353.93L399.89 331.52L427.58 307.32L450.50 331.19L403.76 385.23ZM403.76 385.23L419.65 366.87L476.71 324.55L511.68 306.99L512.30 356.40L497.03 376.10L441.23 386.24Z" fill="none" stroke="#000" stroke-width="1.9" stroke-linejoin="miter"/>
<g font-size="10.0" fill="#fff" stroke="#fff" stroke-width="1.6" stroke-linejoin="round">
<text transform="matrix(0.9151 0 0 0.9264 98.42 66.20)">R2</text>
<text transform="matrix(0.8931 0 0 0.9882 127.30 85.69)">R1</text>
<text transform="matrix(1.0577 0 0 0.9155 155.83 64.41)">0.2</text>
<text transform="matrix(0.9565 0 0 1.1429 253.03 65.70)">R2</text>
<text transform="matrix(1.1407 0 0 1.1647 265.41 64.71)">-</text>
<text transform="matrix(0.8180 0 0 1.0472 312.97 77.53)">R1</text>
<text transform="matrix(1.1253 0 0 1.1724 322.30 67.17)">2</text>
<text transform="matrix(0.9318 0 0 1.0306 420.18 66.17)">R2</text>
<text transform="matrix(0.8109 0 0 1.0220 462.94 86.36)">R1</text>
<text transform="matrix(1.0481 0 0 1.0446 487.01 68.43)">0.5</text>
<text transform="matrix(0.9391 0 0 0.9571 95.05 191.70)">R2</text>
<text transform="matrix(0.8011 0 0 0.9195 157.14 209.14)">R1</text>
<text transform="matrix(1.0967 0 0 1.0724 163.98 197.76)">90</text>
<text transform="matrix(0.9391 0 0 1.0286 255.15 192.90)">R2</text>
<text transform="matrix(0.7565 0 0 1.1159 310.39 206.70)">R1</text>
<text transform="matrix(0.9089 0 0 0.9750 324.13 197.70)">46</text>
<text transform="matrix(0.9224 0 0 1.0173 421.21 194.36)">R2</text>
<text transform="matrix(0.9420 0 0 0.9504 468.16 215.33)">R1</text>
<text transform="matrix(0.9714 0 0 1.0714 494.21 201.80)">42</text>
<text transform="matrix(0.9365 0 0 1.0141 88.02 331.85)">R2</text>
<text transform="matrix(0.8261 0 0 1.0000 163.14 347.30)">R1</text>
<text transform="matrix(1.0680 0 0 1.0423 160.57 332.70)">86</text>
<text transform="matrix(0.9255 0 0 1.1472 254.66 334.14)">R2</text>
<text transform="matrix(0.8331 0 0 1.0472 303.28 342.69)">R1</text>
<text transform="matrix(0.9568 0 0 1.1463 320.09 338.02)">52</text>
<text transform="matrix(0.8976 0 0 0.9415 457.00 356.20)">R1</text>
<text transform="matrix(1.0134 0 0 1.0376 492.81 332.75)">63</text>
</g>
<filter id="tb" x="0" y="0" width="1" height="1"><feGaussianBlur stdDeviation="0.2"/></filter>
<g font-size="10.0" fill="#000" stroke="#000" stroke-width="0.32" filter="url(#tb)">
<text transform="matrix(1.1847 0 0 1.1370 71.03 10.29)" font-weight="bold" stroke-width="0.12">Cord</text>
<text transform="matrix(1.2061 0 0 1.1690 105.22 10.28)" font-weight="bold" stroke-width="0.12">CD45RA</text>
<text transform="matrix(1.1823 0 0 1.1156 238.37 10.21)" font-weight="bold" stroke-width="0.12">Adult</text>
<text transform="matrix(1.1985 0 0 1.1549 271.82 10.08)" font-weight="bold" stroke-width="0.12">CD45RA</text>
<text transform="matrix(1.1873 0 0 1.0959 402.34 10.09)" font-weight="bold" stroke-width="0.12">Adult</text>
<text transform="matrix(1.2054 0 0 1.1443 435.83 10.33)" font-weight="bold" stroke-width="0.12">CD45RO</text>
<text transform="matrix(0 -1.1471 1.3028 0 10.97 67.76)" font-weight="bold" stroke-width="0.12">G</text>
<text transform="matrix(0 -1.0602 1.1793 0 9.77 228.17)" font-weight="bold" stroke-width="0.12">G</text>
<text transform="matrix(0 -1.3092 1.1486 0 9.87 218.73)" font-weight="bold" stroke-width="0.12">/IL7SU</text>
<text transform="matrix(0 -1.2558 1.1690 0 10.48 362.00)" font-weight="bold" stroke-width="0.12">G+rIL-7</text>
<text transform="matrix(0.9238 0 0 0.9221 47.53 125.50)">0</text>
<text transform="matrix(0.8995 0 0 0.8696 68.19 125.28)">200</text>
<text transform="matrix(0.8814 0 0 0.9074 93.87 125.55)">400</text>
<text transform="matrix(0.8987 0 0 0.8873 119.21 125.61)">600</text>
<text transform="matrix(0.8931 0 0 0.8873 144.82 125.61)">800</text>
<text transform="matrix(0.8559 0 0 0.8689 168.18 125.28)">1000</text>
<text transform="matrix(0.8443 0 0 0.9155 101.12 136.41)">FSC-H</text>
<text transform="matrix(0 -0.7770 0.8759 0 41.56 115.62)">0</text>
<text transform="matrix(0 -0.8022 0.8756 0 41.56 38.26)">1000</text>
<text transform="matrix(0 -0.8748 0.9999 0 31.40 84.83)">SSC-H</text>
<text transform="matrix(0.9151 0 0 0.9264 98.42 66.20)">R2</text>
<text transform="matrix(0.8931 0 0 0.9882 127.30 85.69)">R1</text>
<text transform="matrix(1.0577 0 0 0.9155 155.83 64.41)">0.2</text>
<text transform="matrix(0.9375 0 0 0.8873 210.18 126.51)">0</text>
<text transform="matrix(0.8922 0 0 0.8679 230.95 126.12)">200</text>
<text transform="matrix(0.8820 0 0 0.8873 256.76 126.51)">400</text>
<text transform="matrix(0.8987 0 0 0.8873 282.11 126.51)">600</text>
<text transform="matrix(0.8931 0 0 0.8873 307.82 126.51)">800</text>
<text transform="matrix(0.8612 0 0 0.8676 331.21 126.12)">1000</text>
<text transform="matrix(0.8443 0 0 0.9155 263.97 137.31)">FSC-H</text>
<text transform="matrix(0 -0.7917 0.9014 0 204.41 116.62)">0</text>
<text transform="matrix(0 -0.8057 0.9014 0 204.41 41.14)">1000</text>
<g clip-path="url(#c2)"><text transform="matrix(0 -0.8700 0.9932 0 195.48 86.22)">SSC-H</text></g>
<text transform="matrix(0.9565 0 0 1.1429 253.03 65.70)">R2</text>
<text transform="matrix(1.1407 0 0 1.1647 265.41 64.71)">-</text>
<text transform="matrix(0.8180 0 0 1.0472 312.97 77.53)">R1</text>
<text transform="matrix(1.1253 0 0 1.1724 322.30 67.17)">2</text>
<text transform="matrix(0.8966 0 0 0.9087 376.57 126.67)">0</text>
<text transform="matrix(0.8987 0 0 0.8873 397.51 126.31)">200</text>
<text transform="matrix(0.8852 0 0 0.9074 423.58 126.67)">400</text>
<text transform="matrix(0.8987 0 0 0.8873 449.43 126.31)">600</text>
<text transform="matrix(0.8780 0 0 0.9382 475.54 126.65)">800</text>
<text transform="matrix(0.8612 0 0 0.8676 499.21 126.40)">1000</text>
<text transform="matrix(0.8443 0 0 0.9155 431.12 137.11)">FSC-H</text>
<text transform="matrix(0 -0.7917 0.9014 0 370.71 116.42)">0</text>
<text transform="matrix(0 -0.8057 0.9014 0 370.71 41.04)">1000</text>
<text transform="matrix(0 -0.8577 0.9800 0 360.48 85.93)">SSC-H</text>
<text transform="matrix(0.9318 0 0 1.0306 420.18 66.17)">R2</text>
<text transform="matrix(0.8109 0 0 1.0220 462.94 86.36)">R1</text>
<text transform="matrix(1.0481 0 0 1.0446 487.01 68.43)">0.5</text>
<text transform="matrix(0.9375 0 0 0.8873 47.27 257.01)">0</text>
<text transform="matrix(0.8987 0 0 0.8873 68.33 257.01)">200</text>
<text transform="matrix(0.8820 0 0 0.8873 94.58 257.01)">400</text>
<text transform="matrix(0.8987 0 0 0.8873 120.29 257.01)">600</text>
<text transform="matrix(0.8931 0 0 0.8873 146.36 257.01)">800</text>
<text transform="matrix(0.8578 0 0 0.8873 170.06 257.01)">1000</text>
<text transform="matrix(0.8363 0 0 0.8956 102.10 267.63)">FSC-H</text>
<text transform="matrix(0 -0.8181 0.8686 0 41.28 247.09)">0</text>
<text transform="matrix(0 -0.8072 0.8640 0 41.26 168.56)">1000</text>
<text transform="matrix(0 -0.8680 0.9952 0 31.36 215.56)">SSC-H</text>
<text transform="matrix(0.9391 0 0 0.9571 95.05 191.70)">R2</text>
<text transform="matrix(0.8011 0 0 0.9195 157.14 209.14)">R1</text>
<text transform="matrix(1.0967 0 0 1.0724 163.98 197.76)">90</text>
<text transform="matrix(0.9375 0 0 0.8873 210.08 259.91)">0</text>
<text transform="matrix(0.8987 0 0 0.8873 231.25 259.91)">200</text>
<text transform="matrix(0.8820 0 0 0.8873 257.62 259.91)">400</text>
<text transform="matrix(0.8987 0 0 0.8873 283.45 259.91)">600</text>
<text transform="matrix(0.8980 0 0 0.9034 309.47 259.76)">800</text>
<text transform="matrix(0.8578 0 0 0.8873 333.46 259.91)">1000</text>
<text transform="matrix(0.8443 0 0 0.9155 265.07 270.71)">FSC-H</text>
<text transform="matrix(0 -0.8186 0.8775 0 204.36 249.99)">0</text>
<text transform="matrix(0 -0.8017 0.8643 0 204.42 170.04)">1000</text>
<text transform="matrix(0.9391 0 0 1.0286 255.15 192.90)">R2</text>
<text transform="matrix(0.7565 0 0 1.1159 310.39 206.70)">R1</text>
<text transform="matrix(0.9089 0 0 0.9750 324.13 197.70)">46</text>
<text transform="matrix(0.9375 0 0 0.8873 375.28 260.21)">0</text>
<text transform="matrix(0.8922 0 0 0.8679 396.69 260.24)">200</text>
<text transform="matrix(0.8820 0 0 0.8873 423.34 260.21)">400</text>
<text transform="matrix(0.8987 0 0 0.8873 449.43 260.21)">600</text>
<text transform="matrix(0.8931 0 0 0.8873 475.88 260.21)">800</text>
<text transform="matrix(0.8559 0 0 0.8689 500.02 260.24)">1000</text>
<text transform="matrix(0.8443 0 0 0.9155 430.92 271.01)">FSC-H</text>
<text transform="matrix(0 -0.7706 0.8679 0 369.28 250.18)">0</text>
<text transform="matrix(0 -0.8072 0.8640 0 369.26 171.56)">1000</text>
<text transform="matrix(0 -0.8456 0.9296 0 359.71 218.22)">SSC-H</text>
<text transform="matrix(0.9224 0 0 1.0173 421.21 194.36)">R2</text>
<text transform="matrix(0.9420 0 0 0.9504 468.16 215.33)">R1</text>
<text transform="matrix(0.9714 0 0 1.0714 494.21 201.80)">42</text>
<text transform="matrix(0.9375 0 0 0.8873 46.17 398.21)">0</text>
<text transform="matrix(0.8902 0 0 0.8920 67.61 398.27)">200</text>
<text transform="matrix(0.8820 0 0 0.8873 94.32 398.21)">400</text>
<text transform="matrix(0.8987 0 0 0.8873 120.45 398.21)">600</text>
<text transform="matrix(0.8931 0 0 0.8873 146.94 398.21)">800</text>
<text transform="matrix(0.8559 0 0 0.8689 171.18 398.24)">1000</text>
<text transform="matrix(0.8443 0 0 0.9155 101.92 409.01)">FSC-H</text>
<text transform="matrix(0 -0.7917 0.9014 0 40.41 388.32)">0</text>
<text transform="matrix(0 -0.8057 0.9014 0 40.41 302.74)">1000</text>
<text transform="matrix(0 -0.8438 0.9062 0 31.43 353.50)">SSC-H</text>
<text transform="matrix(0.9365 0 0 1.0141 88.02 331.85)">R2</text>
<text transform="matrix(0.8261 0 0 1.0000 163.14 347.30)">R1</text>
<text transform="matrix(1.0680 0 0 1.0423 160.57 332.70)">86</text>
<text transform="matrix(0.8990 0 0 0.9418 211.36 402.55)">0</text>
<text transform="matrix(0.8932 0 0 0.8686 232.00 402.28)">200</text>
<text transform="matrix(0.8775 0 0 0.9074 257.78 402.55)">400</text>
<text transform="matrix(0.8987 0 0 0.8873 283.21 402.61)">600</text>
<text transform="matrix(0.8931 0 0 0.8873 308.92 402.61)">800</text>
<text transform="matrix(0.8612 0 0 0.8676 332.37 402.28)">1000</text>
<text transform="matrix(0.8443 0 0 0.9155 265.07 413.41)">FSC-H</text>
<text transform="matrix(0 -0.7706 0.8656 0 205.27 392.68)">0</text>
<text transform="matrix(0 -0.8328 0.8597 0 205.24 378.11)">200</text>
<text transform="matrix(0 -0.8376 0.8630 0 205.26 358.68)">400</text>
<text transform="matrix(0 -0.8308 0.8613 0 205.25 339.20)">600</text>
<text transform="matrix(0 -0.8117 0.8600 0 205.23 319.54)">800</text>
<text transform="matrix(0 -0.8195 0.8626 0 205.26 302.81)">1000</text>
<text transform="matrix(0.9255 0 0 1.1472 254.66 334.14)">R2</text>
<text transform="matrix(0.8331 0 0 1.0472 303.28 342.69)">R1</text>
<text transform="matrix(0.9568 0 0 1.1463 320.09 338.02)">52</text>
<text transform="matrix(0.8990 0 0 0.9418 376.36 401.67)">0</text>
<text transform="matrix(0.8987 0 0 0.8873 397.35 401.31)">200</text>
<text transform="matrix(0.8642 0 0 0.9418 423.74 401.67)">400</text>
<text transform="matrix(0.8987 0 0 0.8873 449.35 401.31)">600</text>
<text transform="matrix(0.8931 0 0 0.8873 475.44 401.31)">800</text>
<text transform="matrix(0.8612 0 0 0.8676 499.21 401.40)">1000</text>
<text transform="matrix(0.8443 0 0 0.9155 431.02 412.11)">FSC-H</text>
<text transform="matrix(0 -0.7882 0.8775 0 370.08 391.31)">0</text>
<text transform="matrix(0 -0.8010 0.8756 0 370.08 302.88)">1000</text>
<g clip-path="url(#c9)"><text transform="matrix(0 -0.8552 0.9951 0 361.01 355.16)">SSC-H</text></g>
<text transform="matrix(0.8976 0 0 0.9415 457.00 356.20)">R1</text>
<text transform="matrix(1.0134 0 0 1.0376 492.81 332.75)">63</text>
</g></g></svg></body></html>
